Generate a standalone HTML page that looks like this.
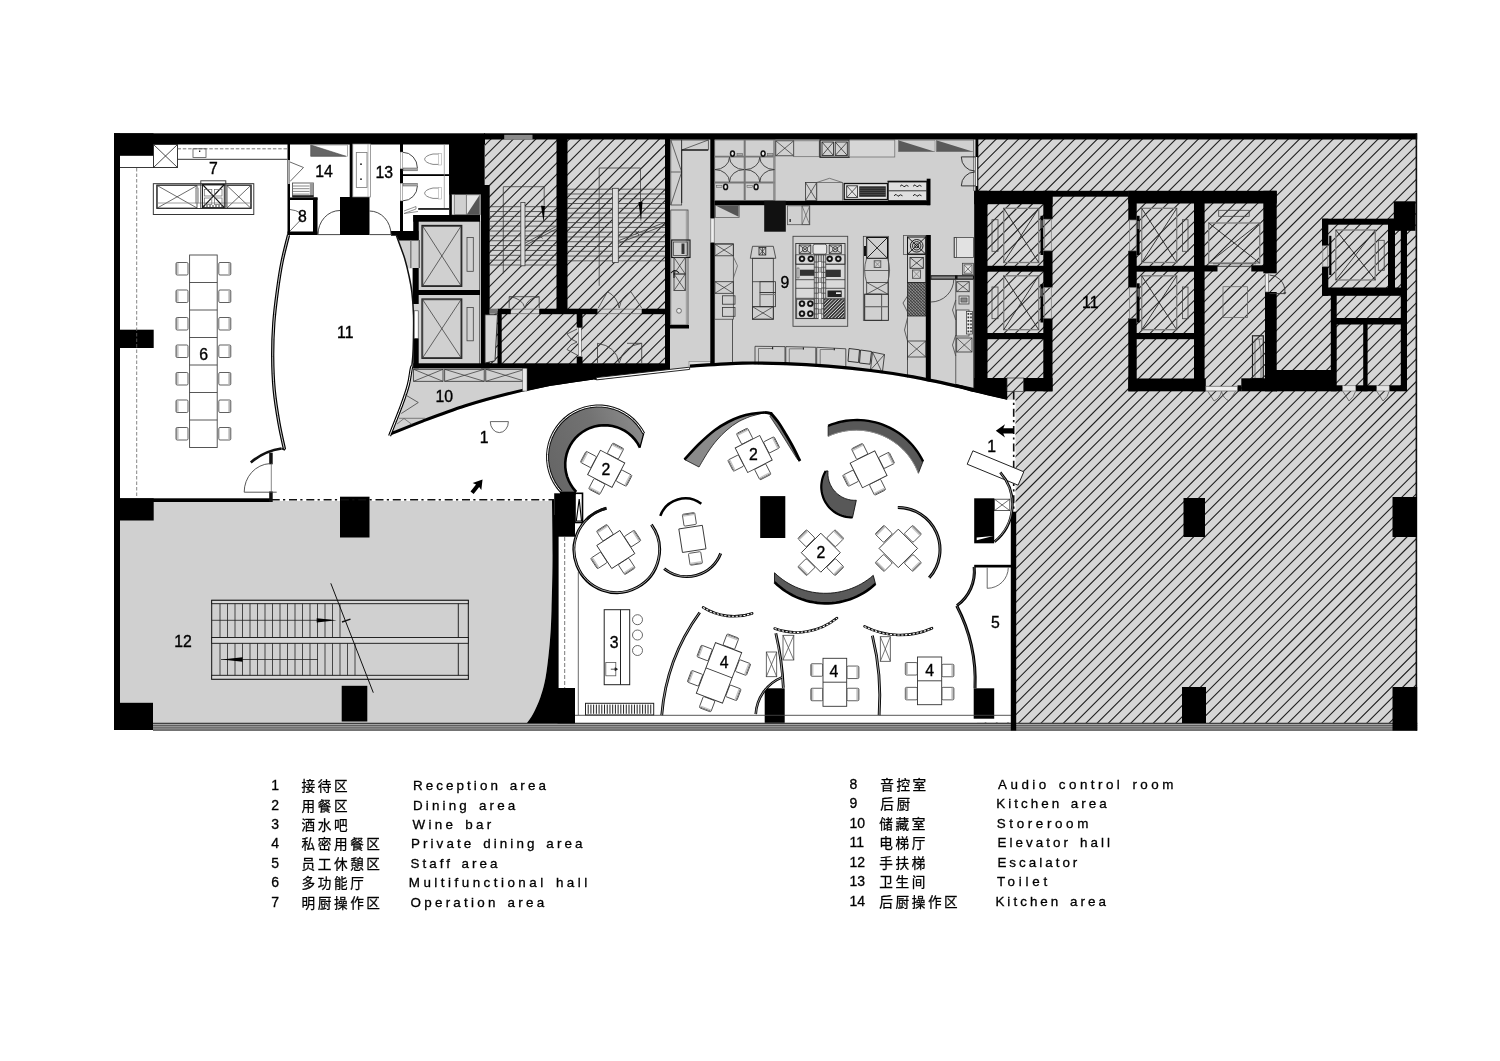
<!DOCTYPE html>
<html><head><meta charset="utf-8"><title>Floor plan</title>
<style>
html,body{margin:0;padding:0;background:#fff;}
svg{display:block;filter:grayscale(1);font-family:"Liberation Sans",sans-serif;}
text{fill:#000;stroke:#000;stroke-width:0.35px;}
.lg text{stroke-width:0.3px;word-spacing:2px;}
.lg text.cj{font-family:"Liberation Sans","Noto Sans CJK SC",sans-serif;font-size:13.6px;letter-spacing:2.6px;word-spacing:0;stroke-width:0.27px;}
</style></head><body>
<svg width="1500" height="1061" viewBox="0 0 1500 1061">
<rect x="0" y="0" width="1500" height="1061" fill="#fff"/>
<!-- s1_base -->
<path d="M120,501 L552,501  C552.08,510 552.58,541.67 552.5,560 C552.42,578.33 551.92,596.67 551.5,610 C551.08,623.33 550.92,629.17 550,640 C549.08,650.83 547.58,665.5 546,675 C544.42,684.5 542.67,690.5 540.5,697 C538.33,703.5 535.25,709.67 533,714 C530.75,718.33 528,721.5 527,723 L120,723 Z" fill="#d0d0d0"/>
<rect x="413" y="215" width="68" height="153" fill="#d0d0d0"/>
<rect x="451.5" y="194.5" width="29.5" height="21.5" fill="#d0d0d0"/>
<polygon points="398,239.5 414,239.5 414,268.5 407.3,268.5 404.6,258.3 400.6,247" fill="#d0d0d0"/>
<rect x="484" y="314" width="15" height="50" fill="#d0d0d0"/>
<path d="M413.3,367 L528,367 L528,392 L508,395.2 L465.3,407.2 L422.7,422.5 L389.6,435.8 L401.7,405 L408.3,385 Z" fill="#d0d0d0"/>
<rect x="485" y="138" width="73" height="228" fill="#d6d6d6"/>
<rect x="566" y="138" width="101" height="228" fill="#d6d6d6"/>
<rect x="556" y="313" width="12" height="53" fill="#d6d6d6"/>
<rect x="669" y="138" width="310" height="264" fill="#d0d0d0"/>
<rect x="977" y="136" width="439.5" height="587" fill="#d6d6d6"/>
<clipPath id="hc"><rect x="485" y="138" width="73" height="228"/><rect x="566" y="138" width="101" height="228"/><rect x="556" y="313" width="12" height="53"/><rect x="977.5" y="136" width="439" height="587"/></clipPath>
<g clip-path="url(#hc)" stroke="#202020" stroke-width="1.1">
<path d="M488.73,130L-111.27,730M499.96,130L-100.04,730M511.19,130L-88.81,730M522.42,130L-77.58,730M533.65,130L-66.35,730M544.88,130L-55.12,730M556.11,130L-43.89,730M567.34,130L-32.66,730M578.57,130L-21.43,730M589.8,130L-10.2,730M601.03,130L1.03,730M612.26,130L12.26,730M623.49,130L23.49,730M634.72,130L34.72,730M645.95,130L45.95,730M657.18,130L57.18,730M668.41,130L68.41,730M679.64,130L79.64,730M690.87,130L90.87,730M702.1,130L102.1,730M713.33,130L113.33,730M724.56,130L124.56,730M735.79,130L135.79,730M747.02,130L147.02,730M758.25,130L158.25,730M769.48,130L169.48,730M780.71,130L180.71,730M791.94,130L191.94,730M803.17,130L203.17,730M814.4,130L214.4,730M825.63,130L225.63,730M836.86,130L236.86,730M848.09,130L248.09,730M859.32,130L259.32,730M870.55,130L270.55,730M881.78,130L281.78,730M893.01,130L293.01,730M904.24,130L304.24,730M915.47,130L315.47,730M926.7,130L326.7,730M937.93,130L337.93,730M949.16,130L349.16,730M960.39,130L360.39,730M971.62,130L371.62,730M982.85,130L382.85,730M994.08,130L394.08,730M1005.31,130L405.31,730M1016.54,130L416.54,730M1027.77,130L427.77,730M1039,130L439,730M1050.23,130L450.23,730M1061.46,130L461.46,730M1072.69,130L472.69,730M1083.92,130L483.92,730M1095.15,130L495.15,730M1106.38,130L506.38,730M1117.61,130L517.61,730M1128.84,130L528.84,730M1140.07,130L540.07,730M1151.3,130L551.3,730M1162.53,130L562.53,730M1173.76,130L573.76,730M1184.99,130L584.99,730M1196.22,130L596.22,730M1207.45,130L607.45,730M1218.68,130L618.68,730M1229.91,130L629.91,730M1241.14,130L641.14,730M1252.37,130L652.37,730M1263.6,130L663.6,730M1274.83,130L674.83,730M1286.06,130L686.06,730M1297.29,130L697.29,730M1308.52,130L708.52,730M1319.75,130L719.75,730M1330.98,130L730.98,730M1342.21,130L742.21,730M1353.44,130L753.44,730M1364.67,130L764.67,730M1375.9,130L775.9,730M1387.13,130L787.13,730M1398.36,130L798.36,730M1409.59,130L809.59,730M1420.82,130L820.82,730M1432.05,130L832.05,730M1443.28,130L843.28,730M1454.51,130L854.51,730M1465.74,130L865.74,730M1476.97,130L876.97,730M1488.2,130L888.2,730M1499.43,130L899.43,730M1510.66,130L910.66,730M1521.89,130L921.89,730M1533.12,130L933.12,730M1544.35,130L944.35,730M1555.58,130L955.58,730M1566.81,130L966.81,730M1578.04,130L978.04,730M1589.27,130L989.27,730M1600.5,130L1000.5,730M1611.73,130L1011.73,730M1622.96,130L1022.96,730M1634.19,130L1034.19,730M1645.42,130L1045.42,730M1656.65,130L1056.65,730M1667.88,130L1067.88,730M1679.11,130L1079.11,730M1690.34,130L1090.34,730M1701.57,130L1101.57,730M1712.8,130L1112.8,730M1724.03,130L1124.03,730M1735.26,130L1135.26,730M1746.49,130L1146.49,730M1757.72,130L1157.72,730M1768.95,130L1168.95,730M1780.18,130L1180.18,730M1791.41,130L1191.41,730M1802.64,130L1202.64,730M1813.87,130L1213.87,730M1825.1,130L1225.1,730M1836.33,130L1236.33,730M1847.56,130L1247.56,730M1858.79,130L1258.79,730M1870.02,130L1270.02,730M1881.25,130L1281.25,730M1892.48,130L1292.48,730M1903.71,130L1303.71,730M1914.94,130L1314.94,730M1926.17,130L1326.17,730M1937.4,130L1337.4,730M1948.63,130L1348.63,730M1959.86,130L1359.86,730M1971.09,130L1371.09,730M1982.32,130L1382.32,730M1993.55,130L1393.55,730M2004.78,130L1404.78,730" fill="none"/>
</g>
<!-- s5_kitchen -->
<rect x="670.8" y="140" width="10.9" height="65" fill="none" stroke="#333" stroke-width="0.7"/>
<path d="M670.8,140 L681.7,172 L670.8,205 M670.8,172 H681.7" fill="none" stroke="#333" stroke-width="0.7"/>
<rect x="681.7" y="140" width="26.6" height="10" fill="none" stroke="#333" stroke-width="0.7"/>
<path d="M681.7,150 L708.3,140" fill="none" stroke="#333" stroke-width="0.7"/>
<path d="M681.7,150 H708" fill="none" stroke="#111" stroke-width="1.2"/>
<path d="M681.7,150 V203" fill="none" stroke="#222" stroke-width="1"/>
<rect x="670.8" y="210" width="17.2" height="115" fill="none" stroke="#333" stroke-width="0.7"/>
<line x1="686.3" y1="210" x2="686.3" y2="325" stroke="#777" stroke-width="0.6"/>
<rect x="671.7" y="240" width="18.3" height="17.5" fill="none" stroke="#111" stroke-width="1.1"/>
<rect x="673.5" y="242" width="14" height="13.5" fill="none" stroke="#333" stroke-width="0.7"/>
<rect x="681.5" y="243.5" width="3" height="10.5" fill="#333"/>
<rect x="674" y="257.5" width="11.3" height="16.5" fill="none" stroke="#333" stroke-width="0.8"/><line x1="674" y1="257.5" x2="685.3" y2="274" stroke="#333" stroke-width="0.72"/><line x1="674" y1="274" x2="685.3" y2="257.5" stroke="#333" stroke-width="0.72"/>
<rect x="674" y="274" width="11.3" height="16.5" fill="none" stroke="#333" stroke-width="0.8"/><line x1="674" y1="274" x2="685.3" y2="290.5" stroke="#333" stroke-width="0.72"/><line x1="674" y1="290.5" x2="685.3" y2="274" stroke="#333" stroke-width="0.72"/>
<path d="M671,273 q4,-5 8,0 M674,270 l0,8" fill="none" stroke="#111" stroke-width="1.1"/>
<circle cx="679" cy="310.8" r="2.4" fill="#e8e8e8" stroke="#555" stroke-width="0.8"/>
<rect x="670" y="325" width="19" height="3.5" fill="#000"/>
<rect x="689" y="361.7" width="21.5" height="4.3" fill="#e0e0e0" stroke="#666" stroke-width="0.5"/>
<rect x="710.3" y="139" width="4.4" height="79.3" fill="#000"/>
<rect x="710.3" y="242.5" width="4.4" height="121.5" fill="#000"/>
<rect x="710.8" y="218.3" width="3.4" height="24.2" fill="#eee" stroke="#555" stroke-width="0.6"/>
<rect x="714.7" y="140" width="60.3" height="60.5" fill="none" stroke="#666" stroke-width="0.8"/>
<line x1="744.7" y1="140" x2="744.7" y2="200.5" stroke="#777" stroke-width="2"/>
<line x1="714.7" y1="156.7" x2="775" y2="156.7" stroke="#777" stroke-width="1.8"/>
<line x1="714.7" y1="182.5" x2="775" y2="182.5" stroke="#777" stroke-width="1.8"/>
<line x1="774" y1="140" x2="774" y2="200.5" stroke="#888" stroke-width="1.6"/>
<path d="M729.5,157.2 A14.6,12.4 0 0 0 744.1,169.6 A14.6,12.4 0 0 0 729.5,182 A14.6,12.4 0 0 0 714.9,169.6 A14.6,12.4 0 0 0 729.5,157.2" fill="none" stroke="#3a3a3a" stroke-width="0.9"/>
<path d="M759.8,157.2 A14.6,12.4 0 0 0 774.4,169.6 A14.6,12.4 0 0 0 759.8,182 A14.6,12.4 0 0 0 745.2,169.6 A14.6,12.4 0 0 0 759.8,157.2" fill="none" stroke="#3a3a3a" stroke-width="0.9"/>
<ellipse cx="732.5" cy="153.6" rx="2.7" ry="3.4" fill="#111"/>
<ellipse cx="732.5" cy="153.6" rx="1.2" ry="1.8" fill="#eee"/>
<ellipse cx="763.1" cy="153.6" rx="2.7" ry="3.4" fill="#111"/>
<ellipse cx="763.1" cy="153.6" rx="1.2" ry="1.8" fill="#eee"/>
<ellipse cx="725.6" cy="186.9" rx="2.7" ry="3.4" fill="#111"/>
<ellipse cx="725.6" cy="186.9" rx="1.2" ry="1.8" fill="#eee"/>
<ellipse cx="756.1" cy="186.9" rx="2.7" ry="3.4" fill="#111"/>
<ellipse cx="756.1" cy="186.9" rx="1.2" ry="1.8" fill="#eee"/>
<rect x="737" y="153.5" width="5.5" height="2.3" fill="#aaa" stroke="#555" stroke-width="0.5"/>
<rect x="767.5" y="153.5" width="5.5" height="2.3" fill="#aaa" stroke="#555" stroke-width="0.5"/>
<rect x="716.5" y="185.5" width="5.5" height="1.8" fill="#ccc" stroke="#555" stroke-width="0.5"/>
<rect x="747" y="185.5" width="5.5" height="1.8" fill="#ccc" stroke="#555" stroke-width="0.5"/>
<rect x="714.7" y="200.8" width="215.3" height="4.4" fill="#000"/>
<rect x="926.7" y="178.7" width="3.8" height="26.5" fill="#000"/>
<rect x="764.2" y="200.8" width="21.6" height="30.9" fill="#111"/>
<rect x="715.5" y="205.5" width="23.7" height="12" fill="none" stroke="#555" stroke-width="0.7"/>
<polygon points="716,205.8 738.6,205.8 738.6,216.8" fill="#555"/>
<rect x="775.8" y="140.8" width="17.9" height="15" fill="none" stroke="#333" stroke-width="0.8"/><line x1="775.8" y1="140.8" x2="793.7" y2="155.8" stroke="#333" stroke-width="0.72"/><line x1="775.8" y1="155.8" x2="793.7" y2="140.8" stroke="#333" stroke-width="0.72"/>
<rect x="793.7" y="140.8" width="25.5" height="15.9" fill="none" stroke="#666" stroke-width="0.7"/>
<rect x="820" y="140" width="29.2" height="17.2" fill="none" stroke="#111" stroke-width="1.2"/>
<rect x="822" y="142" width="11.4" height="13.5" fill="none" stroke="#222" stroke-width="0.8"/><line x1="822" y1="142" x2="833.4" y2="155.5" stroke="#222" stroke-width="0.72"/><line x1="822" y1="155.5" x2="833.4" y2="142" stroke="#222" stroke-width="0.72"/>
<rect x="835.2" y="142" width="12.1" height="13.5" fill="none" stroke="#222" stroke-width="0.8"/><line x1="835.2" y1="142" x2="847.3" y2="155.5" stroke="#222" stroke-width="0.72"/><line x1="835.2" y1="155.5" x2="847.3" y2="142" stroke="#222" stroke-width="0.72"/>
<rect x="849.2" y="140" width="45.6" height="17" fill="#d6d6d6" stroke="#666" stroke-width="0.7"/>
<polygon points="898.3,140.3 898.3,151.7 935,151.7" fill="#5a5a5a"/>
<rect x="898.3" y="140.3" width="36.7" height="11.4" fill="none" stroke="#777" stroke-width="0.5"/>
<polygon points="936.3,140.3 936.3,151.7 973.3,151.7" fill="#5a5a5a"/>
<rect x="936.3" y="140.3" width="37.2" height="11.4" fill="none" stroke="#777" stroke-width="0.5"/>
<rect x="805.5" y="182.5" width="11.2" height="18" fill="none" stroke="#333" stroke-width="0.8"/><line x1="805.5" y1="182.5" x2="816.7" y2="200.5" stroke="#333" stroke-width="0.72"/><line x1="805.5" y1="200.5" x2="816.7" y2="182.5" stroke="#333" stroke-width="0.72"/>
<path d="M816.7,200.5 V182.5 L829.5,178.3 L842.5,182.5 V200.5 M816.7,182.5 H842.5" fill="none" stroke="#555" stroke-width="0.7"/>
<rect x="844.2" y="183.5" width="43.3" height="16" fill="#e4e4e4" stroke="#111" stroke-width="1.3"/>
<rect x="846.7" y="185.8" width="10.8" height="11.7" fill="none" stroke="#222" stroke-width="0.8"/><line x1="846.7" y1="185.8" x2="857.5" y2="197.5" stroke="#222" stroke-width="0.72"/><line x1="846.7" y1="197.5" x2="857.5" y2="185.8" stroke="#222" stroke-width="0.72"/>
<rect x="859.2" y="186.3" width="26.6" height="10.5" fill="#2b2b2b"/>
<line x1="859.2" y1="188.3" x2="885.8" y2="188.3" stroke="#666" stroke-width="0.5"/>
<line x1="859.2" y1="190.4" x2="885.8" y2="190.4" stroke="#666" stroke-width="0.5"/>
<line x1="859.2" y1="192.5" x2="885.8" y2="192.5" stroke="#666" stroke-width="0.5"/>
<line x1="859.2" y1="194.6" x2="885.8" y2="194.6" stroke="#666" stroke-width="0.5"/>
<rect x="888.3" y="181.7" width="38.4" height="18.8" fill="#e0e0e0" stroke="#222" stroke-width="0.9"/>
<rect x="887.5" y="180.7" width="39.5" height="1.6" fill="#111"/>
<line x1="888.3" y1="190.8" x2="926.7" y2="190.8" stroke="#222" stroke-width="0.9"/>
<path d="M900,186.3 l2,-1.5 l2,2 l2.5,-1.5 l2,1" fill="none" stroke="#222" stroke-width="1"/>
<path d="M913,186.3 l2,-1.5 l2,2 l2.5,-1.5 l2,1" fill="none" stroke="#222" stroke-width="1"/>
<path d="M894,195.8 l2,-1.5 l2,2 l2.5,-1.5 l2,1" fill="none" stroke="#222" stroke-width="1"/>
<path d="M913,195.8 l2,-1.5 l2,2 l2.5,-1.5 l2,1" fill="none" stroke="#222" stroke-width="1"/>
<rect x="787.5" y="205.8" width="22.2" height="18.9" fill="none" stroke="#555" stroke-width="0.8"/>
<rect x="802" y="205.8" width="7.7" height="18.9" fill="none" stroke="#555" stroke-width="0.7"/><line x1="802" y1="205.8" x2="809.7" y2="224.7" stroke="#555" stroke-width="0.63"/><line x1="802" y1="224.7" x2="809.7" y2="205.8" stroke="#555" stroke-width="0.63"/>
<rect x="789.5" y="219" width="1.3" height="3" fill="#222"/>
<rect x="714.7" y="243.7" width="18.6" height="75.5" fill="none" stroke="#333" stroke-width="0.7"/>
<rect x="714.9" y="244.2" width="18.4" height="11.6" fill="none" stroke="#333" stroke-width="0.8"/><line x1="714.9" y1="244.2" x2="733.3" y2="255.8" stroke="#333" stroke-width="0.72"/><line x1="714.9" y1="255.8" x2="733.3" y2="244.2" stroke="#333" stroke-width="0.72"/>
<rect x="714.9" y="281.7" width="18.4" height="11.6" fill="none" stroke="#333" stroke-width="0.8"/><line x1="714.9" y1="281.7" x2="733.3" y2="293.3" stroke="#333" stroke-width="0.72"/><line x1="714.9" y1="293.3" x2="733.3" y2="281.7" stroke="#333" stroke-width="0.72"/>
<path d="M733.3,256.7 L737.5,265.8 L733.3,278.3" fill="none" stroke="#555" stroke-width="0.7"/>
<rect x="722.5" y="295.8" width="12.5" height="8.4" fill="none" stroke="#333" stroke-width="0.8"/>
<rect x="722.5" y="307.5" width="12.5" height="8.8" fill="none" stroke="#333" stroke-width="0.8"/>
<line x1="732.5" y1="319.2" x2="732.5" y2="362" stroke="#333" stroke-width="0.8"/>
<path d="M752.5,246.3 H773.3 L775.8,258.3 H750.3 Z" fill="none" stroke="#333" stroke-width="0.8"/>
<rect x="752.5" y="258.3" width="20.8" height="60.9" fill="none" stroke="#333" stroke-width="0.8"/>
<rect x="759" y="247.5" width="6.8" height="7.5" fill="none" stroke="#222" stroke-width="0.8"/>
<path d="M759,247.5 L765.8,255 M759,255 L765.8,247.5 M762.4,247.5V255" fill="none" stroke="#222" stroke-width="0.7"/>
<line x1="752.5" y1="281.7" x2="773.3" y2="281.7" stroke="#333" stroke-width="0.8"/>
<line x1="752.5" y1="306.7" x2="773.3" y2="306.7" stroke="#333" stroke-width="0.8"/>
<rect x="760" y="281.7" width="15.5" height="10.8" fill="none" stroke="#333" stroke-width="0.8"/>
<rect x="760" y="292.5" width="15.5" height="14.2" fill="none" stroke="#333" stroke-width="0.8"/>
<line x1="760" y1="294.5" x2="775.5" y2="294.5" stroke="#777" stroke-width="1.2"/>
<rect x="752.5" y="306.7" width="20.8" height="12.5" fill="none" stroke="#333" stroke-width="0.8"/><line x1="752.5" y1="306.7" x2="773.3" y2="319.2" stroke="#333" stroke-width="0.72"/><line x1="752.5" y1="319.2" x2="773.3" y2="306.7" stroke="#333" stroke-width="0.72"/>
<text x="785" y="287.8" font-size="15.8" text-anchor="middle">9</text>
<rect x="793" y="236.3" width="54.7" height="90" fill="none" stroke="#444" stroke-width="0.9"/>
<rect x="795.8" y="243.5" width="49.2" height="75.1" fill="#d9d9d9" stroke="#333" stroke-width="0.9"/>
<rect x="799.2" y="245" width="11.6" height="8.3" fill="none" stroke="#222" stroke-width="0.8"/><line x1="799.2" y1="245" x2="810.8" y2="253.3" stroke="#222" stroke-width="0.72"/><line x1="799.2" y1="253.3" x2="810.8" y2="245" stroke="#222" stroke-width="0.72"/>
<rect x="829.2" y="245" width="12.1" height="8.3" fill="none" stroke="#222" stroke-width="0.8"/><line x1="829.2" y1="245" x2="841.3" y2="253.3" stroke="#222" stroke-width="0.72"/><line x1="829.2" y1="253.3" x2="841.3" y2="245" stroke="#222" stroke-width="0.72"/>
<circle cx="805" cy="249.2" r="2.6" fill="none" stroke="#222" stroke-width="0.8"/>
<circle cx="835.2" cy="249.2" r="2.6" fill="none" stroke="#222" stroke-width="0.8"/>
<rect x="813" y="244.2" width="13.7" height="10" fill="#e6e6e6" stroke="#333" stroke-width="0.8" rx="2"/>
<rect x="795.8" y="254.8" width="49.2" height="9.4" fill="none" stroke="#333" stroke-width="0.7"/>
<circle cx="802" cy="258.8" r="3.1" fill="#111" stroke="#111" stroke-width="0.4"/><circle cx="802" cy="258.8" r="1.4" fill="#ddd" stroke="none" stroke-width="0"/>
<circle cx="810.8" cy="258.8" r="3.1" fill="#111" stroke="#111" stroke-width="0.4"/><circle cx="810.8" cy="258.8" r="1.4" fill="#ddd" stroke="none" stroke-width="0"/>
<circle cx="829.7" cy="258.8" r="3.1" fill="#111" stroke="#111" stroke-width="0.4"/><circle cx="829.7" cy="258.8" r="1.4" fill="#ddd" stroke="none" stroke-width="0"/>
<circle cx="838.3" cy="258.8" r="3.1" fill="#111" stroke="#111" stroke-width="0.4"/><circle cx="838.3" cy="258.8" r="1.4" fill="#ddd" stroke="none" stroke-width="0"/>
<line x1="795.8" y1="264.2" x2="845" y2="264.2" stroke="#333" stroke-width="0.8"/>
<line x1="795.8" y1="279.7" x2="845" y2="279.7" stroke="#333" stroke-width="0.8"/>
<line x1="795.8" y1="288.3" x2="845" y2="288.3" stroke="#333" stroke-width="0.8"/>
<line x1="795.8" y1="298.3" x2="845" y2="298.3" stroke="#333" stroke-width="0.8"/>
<rect x="800" y="269.7" width="15" height="6.1" fill="#333"/>
<rect x="824.2" y="269.7" width="16.6" height="7.3" fill="#333"/>
<rect x="797" y="268" width="2" height="10" fill="none" stroke="#333" stroke-width="0.5"/>
<rect x="814.2" y="255" width="11.6" height="63.3" fill="#cfcfcf" stroke="#333" stroke-width="0.7"/>
<path d="M816.3,255V318M818.6,255V318M821.2,255V318M823.5,255V318M814.2,262H825.8M814.2,267.2H825.8M814.2,272.4H825.8M814.2,277.6H825.8M814.2,282.8H825.8M814.2,288H825.8M814.2,293.2H825.8M814.2,298.4H825.8M814.2,303.6H825.8M814.2,308.8H825.8M814.2,314H825.8" fill="none" stroke="#444" stroke-width="0.8"/>
<rect x="818.6" y="262" width="2.6" height="5.2" fill="#f2f2f2"/>
<rect x="818.6" y="272.4" width="2.6" height="5.2" fill="#f2f2f2"/>
<rect x="818.6" y="282.8" width="2.6" height="5.2" fill="#f2f2f2"/>
<rect x="818.6" y="293.2" width="2.6" height="5.2" fill="#f2f2f2"/>
<rect x="818.6" y="303.6" width="2.6" height="5.2" fill="#f2f2f2"/>
<rect x="818.6" y="314" width="2.6" height="5.2" fill="#f2f2f2"/>
<rect x="827.5" y="290.5" width="14.2" height="6.5" fill="#222"/>
<rect x="836" y="292.3" width="4.8" height="1.7" fill="#eee"/>
<rect x="824.2" y="299.2" width="20" height="19.1" fill="#3a3a3a" stroke="#222" stroke-width="0.6"/>
<clipPath id="kh"><rect x="824.2" y="299.2" width="20" height="19.1"/></clipPath>
<g clip-path="url(#kh)"><path d="M803.8,318.3l19.1,-19.1M807.2,318.3l19.1,-19.1M810.6,318.3l19.1,-19.1M814,318.3l19.1,-19.1M817.4,318.3l19.1,-19.1M820.8,318.3l19.1,-19.1M824.2,318.3l19.1,-19.1M827.6,318.3l19.1,-19.1M831,318.3l19.1,-19.1M834.4,318.3l19.1,-19.1M837.8,318.3l19.1,-19.1M841.2,318.3l19.1,-19.1M844.6,318.3l19.1,-19.1M848,318.3l19.1,-19.1" fill="none" stroke="#ddd" stroke-width="1"/></g>
<rect x="796.7" y="299.2" width="17.5" height="19.1" fill="none" stroke="#333" stroke-width="0.8"/>
<circle cx="802" cy="303.7" r="3.1" fill="#111" stroke="#111" stroke-width="0.4"/><circle cx="802" cy="303.7" r="1.4" fill="#ddd" stroke="none" stroke-width="0"/>
<circle cx="810.3" cy="303.7" r="3.1" fill="#111" stroke="#111" stroke-width="0.4"/><circle cx="810.3" cy="303.7" r="1.4" fill="#ddd" stroke="none" stroke-width="0"/>
<circle cx="802" cy="313.7" r="3.1" fill="#111" stroke="#111" stroke-width="0.4"/><circle cx="802" cy="313.7" r="1.4" fill="#ddd" stroke="none" stroke-width="0"/>
<circle cx="810.3" cy="313.7" r="3.1" fill="#111" stroke="#111" stroke-width="0.4"/><circle cx="810.3" cy="313.7" r="1.4" fill="#ddd" stroke="none" stroke-width="0"/>
<rect x="863.3" y="236.3" width="25.2" height="84" fill="none" stroke="#333" stroke-width="0.7"/>
<rect x="866.7" y="237.5" width="20.8" height="20.8" fill="none" stroke="#111" stroke-width="1"/><line x1="866.7" y1="237.5" x2="887.5" y2="258.3" stroke="#111" stroke-width="0.9"/><line x1="866.7" y1="258.3" x2="887.5" y2="237.5" stroke="#111" stroke-width="0.9"/>
<rect x="864" y="246" width="2" height="10" fill="#111"/>
<rect x="874.2" y="260.8" width="6.6" height="6.7" fill="none" stroke="#444" stroke-width="0.8"/>
<path d="M874.2,260.8l6.6,6.7M874.2,267.5l6.6,-6.7" fill="none" stroke="#666" stroke-width="0.6"/>
<path d="M866.7,258.3 Q862.5,270 866.7,282.5 M887.5,258.3 Q891.7,270 887.5,282.5 M864.5,270.5 H889.5" fill="none" stroke="#444" stroke-width="0.8"/>
<rect x="866.7" y="282.5" width="21.3" height="11.7" fill="none" stroke="#333" stroke-width="0.8"/><line x1="866.7" y1="282.5" x2="888" y2="294.2" stroke="#333" stroke-width="0.72"/><line x1="866.7" y1="294.2" x2="888" y2="282.5" stroke="#333" stroke-width="0.72"/>
<rect x="864.7" y="294.2" width="23.6" height="26.1" fill="none" stroke="#333" stroke-width="0.8"/>
<rect x="864.7" y="294.2" width="17" height="26.1" fill="none" stroke="#333" stroke-width="0.8"/>
<line x1="864.7" y1="306.7" x2="888.3" y2="306.7" stroke="#666" stroke-width="1.2"/>
<rect x="925.8" y="235" width="5" height="150" fill="#000"/>
<rect x="903.5" y="235.5" width="22.3" height="19" fill="none" stroke="#555" stroke-width="0.8"/>
<rect x="907.5" y="237" width="18.3" height="17.2" fill="none" stroke="#111" stroke-width="1"/><line x1="907.5" y1="237" x2="925.8" y2="254.2" stroke="#111" stroke-width="0.9"/><line x1="907.5" y1="254.2" x2="925.8" y2="237" stroke="#111" stroke-width="0.9"/>
<circle cx="916.7" cy="245.8" r="2" fill="none" stroke="#111" stroke-width="0.9"/>
<circle cx="916.7" cy="245.8" r="4.2" fill="none" stroke="#111" stroke-width="0.9"/>
<circle cx="916.7" cy="245.8" r="6.3" fill="none" stroke="#111" stroke-width="0.9"/>
<rect x="907.5" y="254.2" width="18.3" height="28.3" fill="none" stroke="#222" stroke-width="0.9"/>
<rect x="910" y="257.5" width="13.3" height="10.8" fill="none" stroke="#222" stroke-width="0.8"/><line x1="910" y1="257.5" x2="923.3" y2="268.3" stroke="#222" stroke-width="0.72"/><line x1="910" y1="268.3" x2="923.3" y2="257.5" stroke="#222" stroke-width="0.72"/>
<rect x="912.5" y="270" width="8" height="8.3" fill="none" stroke="#444" stroke-width="0.8"/>
<path d="M912.5,270l8,8.3M912.5,278.3l8,-8.3" fill="none" stroke="#666" stroke-width="0.6"/>
<rect x="907.5" y="282.5" width="18.3" height="33.5" fill="#8a8a8a" stroke="#222" stroke-width="0.8"/>
<clipPath id="kh2"><rect x="907.5" y="282.5" width="18.3" height="33.5"/></clipPath>
<g clip-path="url(#kh2)"><path d="M871.5,316l33.5,-33.5M871.5,282.5l33.5,33.5M874.5,316l33.5,-33.5M874.5,282.5l33.5,33.5M877.5,316l33.5,-33.5M877.5,282.5l33.5,33.5M880.5,316l33.5,-33.5M880.5,282.5l33.5,33.5M883.5,316l33.5,-33.5M883.5,282.5l33.5,33.5M886.5,316l33.5,-33.5M886.5,282.5l33.5,33.5M889.5,316l33.5,-33.5M889.5,282.5l33.5,33.5M892.5,316l33.5,-33.5M892.5,282.5l33.5,33.5M895.5,316l33.5,-33.5M895.5,282.5l33.5,33.5M898.5,316l33.5,-33.5M898.5,282.5l33.5,33.5M901.5,316l33.5,-33.5M901.5,282.5l33.5,33.5M904.5,316l33.5,-33.5M904.5,282.5l33.5,33.5M907.5,316l33.5,-33.5M907.5,282.5l33.5,33.5M910.5,316l33.5,-33.5M910.5,282.5l33.5,33.5M913.5,316l33.5,-33.5M913.5,282.5l33.5,33.5M916.5,316l33.5,-33.5M916.5,282.5l33.5,33.5M919.5,316l33.5,-33.5M919.5,282.5l33.5,33.5M922.5,316l33.5,-33.5M922.5,282.5l33.5,33.5M925.5,316l33.5,-33.5M925.5,282.5l33.5,33.5M928.5,316l33.5,-33.5M928.5,282.5l33.5,33.5" fill="none" stroke="#222" stroke-width="0.6"/></g>
<path d="M907.5,296 L903,303 L907.5,312 M907.5,318 L904.5,330 L907.5,341 M907.5,316 V360" fill="none" stroke="#444" stroke-width="0.8"/>
<rect x="907.5" y="341" width="18.3" height="16" fill="none" stroke="#333" stroke-width="0.8"/><line x1="907.5" y1="341" x2="925.8" y2="357" stroke="#333" stroke-width="0.72"/><line x1="907.5" y1="357" x2="925.8" y2="341" stroke="#333" stroke-width="0.72"/>
<line x1="907.5" y1="357" x2="907.5" y2="381" stroke="#333" stroke-width="0.8"/>
<rect x="930.8" y="275.8" width="42.7" height="3.4" fill="#888" stroke="#111" stroke-width="1.1"/>
<rect x="955" y="275.5" width="2.5" height="4" fill="#111"/>
<path d="M930.8,302 A23,23 0 0 0 953.8,279.2" fill="none" stroke="#333" stroke-width="0.8"/>
<rect x="954.2" y="237.5" width="19.3" height="20" fill="#e2e2e2" stroke="#444" stroke-width="0.8"/>
<rect x="954.2" y="237.5" width="2.3" height="20" fill="none" stroke="#444" stroke-width="0.7"/>
<rect x="962.5" y="263.3" width="11" height="11.4" fill="#e2e2e2" stroke="#444" stroke-width="0.8"/>
<rect x="964" y="264.8" width="8" height="8.4" fill="none" stroke="#555" stroke-width="0.8"/><line x1="964" y1="264.8" x2="972" y2="273.2" stroke="#555" stroke-width="0.72"/><line x1="964" y1="273.2" x2="972" y2="264.8" stroke="#555" stroke-width="0.72"/>
<rect x="955.8" y="279.2" width="17.7" height="112.8" fill="none" stroke="#444" stroke-width="0.8"/>
<rect x="956.7" y="281.7" width="12.5" height="10" fill="none" stroke="#333" stroke-width="0.8"/><line x1="956.7" y1="281.7" x2="969.2" y2="291.7" stroke="#333" stroke-width="0.72"/><line x1="956.7" y1="291.7" x2="969.2" y2="281.7" stroke="#333" stroke-width="0.72"/>
<rect x="959" y="296" width="10" height="8" fill="none" stroke="#444" stroke-width="0.8"/>
<path d="M961,298h6v4h-6z" fill="#888" stroke="#555" stroke-width="0.8"/>
<rect x="956.5" y="310" width="12.5" height="26" fill="#e0e0e0" stroke="#444" stroke-width="0.8"/>
<rect x="966.5" y="311.5" width="6" height="22.5" fill="#eee" stroke="#333" stroke-width="0.7"/>
<rect x="967.5" y="313" width="1.7" height="1.8" fill="#333"/>
<rect x="970.2" y="313" width="1.6" height="1.8" fill="#333"/>
<rect x="967.5" y="316.5" width="1.7" height="1.8" fill="#333"/>
<rect x="970.2" y="316.5" width="1.6" height="1.8" fill="#333"/>
<rect x="967.5" y="320" width="1.7" height="1.8" fill="#333"/>
<rect x="970.2" y="320" width="1.6" height="1.8" fill="#333"/>
<rect x="967.5" y="323.5" width="1.7" height="1.8" fill="#333"/>
<rect x="970.2" y="323.5" width="1.6" height="1.8" fill="#333"/>
<rect x="967.5" y="327" width="1.7" height="1.8" fill="#333"/>
<rect x="970.2" y="327" width="1.6" height="1.8" fill="#333"/>
<rect x="967.5" y="330.5" width="1.7" height="1.8" fill="#333"/>
<rect x="970.2" y="330.5" width="1.6" height="1.8" fill="#333"/>
<rect x="956.7" y="338" width="15.3" height="14" fill="none" stroke="#333" stroke-width="0.8"/><line x1="956.7" y1="338" x2="972" y2="352" stroke="#333" stroke-width="0.72"/><line x1="956.7" y1="352" x2="972" y2="338" stroke="#333" stroke-width="0.72"/>
<path d="M955.8,300 L952.5,310 L955.8,320 M955.8,335 L952.5,345 L955.8,356" fill="none" stroke="#444" stroke-width="0.8"/>
<rect x="975.5" y="139" width="2.8" height="52.2" fill="#000"/>
<rect x="975.9" y="157" width="1.3" height="29" fill="#f2f2f2"/>
<line x1="973.5" y1="139.5" x2="973.5" y2="191" stroke="#666" stroke-width="0.8"/>
<path d="M961.3,156.9 H975.5 M961.3,185.9 H975.5 M961.3,156.9 A13.5,14 0 0 0 974.8,171 M961.3,185.9 A13.5,14 0 0 1 974.8,172" fill="none" stroke="#222" stroke-width="0.9"/>
<path d="M755,365 V346.3 L785,346.6 V368" fill="none" stroke="#333" stroke-width="0.8"/>
<path d="M758.5,365 V348.5 H772" fill="none" stroke="#555" stroke-width="0.7"/>
<rect x="772" y="347.1" width="1.2" height="2.2" fill="#222"/>
<path d="M785.8,365 V346.6 L815.8,347.3 V368" fill="none" stroke="#333" stroke-width="0.8"/>
<path d="M789.3,365 V348.8 H802.8" fill="none" stroke="#555" stroke-width="0.7"/>
<rect x="802.8" y="347.4" width="1.2" height="2.2" fill="#222"/>
<path d="M816.7,365 V347.3 L845.8,348.8 V368" fill="none" stroke="#333" stroke-width="0.8"/>
<path d="M820.2,365 V349.5 H833.7" fill="none" stroke="#555" stroke-width="0.7"/>
<rect x="833.7" y="348.1" width="1.2" height="2.2" fill="#222"/>
<polygon points="849,348.5 859.5,349.8 858.5,362.5 848,361.3" fill="none" stroke="#222" stroke-width="0.9"/>
<polygon points="860.5,350 871.5,351.5 870,364.2 859.5,363" fill="none" stroke="#222" stroke-width="0.9"/>
<polygon points="872.5,352 884.5,354.5 882.3,373 870.5,370" fill="none" stroke="#222" stroke-width="0.8"/>
<path d="M872.5,352 L882.3,373 M884.5,354.5 L870.5,370" fill="none" stroke="#222" stroke-width="0.7"/>
<!-- s4_stairs -->
<path d="M544.2,205 V186.7 H503.3 V273.3" fill="none" stroke="#3c3c3c" stroke-width="0.8"/>
<path d="M490,206.7 H556.5M490,211.56 H556.5M490,216.42 H556.5M490,221.28 H556.5M490,226.14 H556.5M490,231 H556.5M490,235.86 H556.5M490,240.72 H556.5M490,245.58 H556.5M490,250.44 H556.5M490,255.3 H556.5M490,260.16 H556.5M490,265.02 H556.5" fill="none" stroke="#3c3c3c" stroke-width="0.8"/>
<rect x="520.8" y="202.5" width="4.2" height="63.3" fill="#ddd" stroke="#3c3c3c" stroke-width="0.8"/>
<polygon points="541,205.8 545,205.8 543.6,222.5" fill="#000"/>
<path d="M525,243.2 L556.5,226.2 M525,245.6 L556.5,228.8 M539,234.5 l3.5,4 M542.5,234.3 l-3.5,4" fill="none" stroke="#3c3c3c" stroke-width="0.85"/>
<path d="M509.2,308 V296.7 H539.2 V308" fill="none" stroke="#3c3c3c" stroke-width="0.85"/>
<path d="M509.2,296.7 Q522,298 525,308 M539.2,296.7 Q527,298 525,308" fill="none" stroke="#3c3c3c" stroke-width="0.85"/>
<path d="M510.8,309.2 H539.2 M510.8,313.6 H539.2" fill="none" stroke="#666" stroke-width="0.7"/>
<path d="M640.5,202.5 V168 H599.2 V285.8" fill="none" stroke="#3c3c3c" stroke-width="0.8"/>
<path d="M567.5,189.2 H665M567.5,193.97 H665M567.5,198.75 H665M567.5,203.52 H665M567.5,208.3 H665M567.5,213.07 H665M567.5,217.85 H665M567.5,222.62 H665M567.5,227.4 H665M567.5,232.17 H665M567.5,236.95 H665M567.5,241.72 H665M567.5,246.5 H665M567.5,251.27 H665M567.5,256.05 H665M567.5,260.82 H665" fill="none" stroke="#3c3c3c" stroke-width="0.8"/>
<rect x="612.5" y="188.3" width="5.8" height="74.2" fill="#ddd" stroke="#3c3c3c" stroke-width="0.8"/>
<polygon points="638.5,202 642.5,202 641,221.7" fill="#000"/>
<path d="M618.3,240.8 L665,222.3 M618.3,243.4 L665,225 M635.5,231 l3.5,4 M639,230.8 l-3.5,4" fill="none" stroke="#3c3c3c" stroke-width="0.85"/>
<path d="M598.3,308 L607.5,291.7 Q617.5,297 619.2,308 M641.7,308 L630.8,291.7 Q621,297 619.2,308" fill="none" stroke="#3c3c3c" stroke-width="0.85"/>
<path d="M597.5,309.2 H641.7 M597.5,313.6 H641.7" fill="none" stroke="#666" stroke-width="0.7"/>
<path d="M597.5,363 V343.3 M641.7,363 V343.3 H627" fill="none" stroke="#3c3c3c" stroke-width="0.85"/>
<path d="M597.5,343.3 Q616,346 619.2,363 M641.7,343.3 Q623,346 619.2,363" fill="none" stroke="#3c3c3c" stroke-width="0.85"/>
<rect x="578.3" y="327.5" width="3" height="29.2" fill="#eee" stroke="#3c3c3c" stroke-width="0.5"/>
<path d="M577,329 L567,334 Q570,340 577,342 M577,355 L567,349.5 Q570,344 577,342" fill="none" stroke="#3c3c3c" stroke-width="0.85"/>
<!-- s6_cores -->
<rect x="974.2" y="190.8" width="78.3" height="13.4" fill="#000"/>
<rect x="1052" y="190.8" width="76.5" height="5.9" fill="#000"/>
<rect x="974.2" y="190.8" width="13.3" height="200.5" fill="#000"/>
<rect x="1043.3" y="190.8" width="9.2" height="28.4" fill="#000"/>
<rect x="1043.3" y="250.8" width="9.2" height="36.7" fill="#000"/>
<rect x="1043.3" y="318.3" width="9.2" height="73" fill="#000"/>
<rect x="987" y="265.8" width="57" height="5.9" fill="#000"/>
<rect x="987" y="333" width="57" height="6.2" fill="#000"/>
<rect x="974.2" y="378" width="32.8" height="13.3" fill="#000"/>
<rect x="1023.7" y="378" width="28.8" height="13.3" fill="#000"/>
<rect x="1007" y="378" width="16.7" height="13.3" fill="none" stroke="#333" stroke-width="0.7"/>
<polygon points="974.2,391 1007.2,391 1007.2,400.3 974.2,392.3 956,387.4 956,384 974.2,388" fill="#000"/>
<rect x="1044.7" y="219.2" width="6.6" height="31.6" fill="none" stroke="#777" stroke-width="0.7"/>
<rect x="1040.5" y="215.8" width="2.8" height="39.2" fill="#000"/>
<rect x="1041.3" y="220.2" width="1.3" height="8" fill="#777"/>
<rect x="1044.7" y="287.5" width="6.6" height="30.8" fill="none" stroke="#777" stroke-width="0.7"/>
<rect x="1040.5" y="284.1" width="2.8" height="38.4" fill="#000"/>
<rect x="1041.3" y="288.5" width="1.3" height="8" fill="#777"/>
<rect x="1003.7" y="208.3" width="35" height="54.2" fill="none" stroke="#7c7c7c" stroke-width="1.3"/><line x1="1003.7" y1="208.3" x2="1038.7" y2="262.5" stroke="#222" stroke-width="0.9"/><line x1="1003.7" y1="262.5" x2="1038.7" y2="208.3" stroke="#222" stroke-width="0.9"/>
<rect x="1003.7" y="275.8" width="35" height="53.9" fill="none" stroke="#7c7c7c" stroke-width="1.3"/><line x1="1003.7" y1="275.8" x2="1038.7" y2="329.7" stroke="#222" stroke-width="0.9"/><line x1="1003.7" y1="329.7" x2="1038.7" y2="275.8" stroke="#222" stroke-width="0.9"/>
<rect x="992" y="219.7" width="6" height="31.6" fill="none" stroke="#444" stroke-width="0.8"/>
<rect x="992" y="287" width="6" height="31.7" fill="none" stroke="#444" stroke-width="0.8"/>
<rect x="1128.3" y="190.8" width="148.4" height="12.7" fill="#000"/>
<rect x="1128.3" y="190.8" width="8.4" height="29.2" fill="#000"/>
<rect x="1128.3" y="250.8" width="8.4" height="36.7" fill="#000"/>
<rect x="1128.3" y="318.3" width="8.4" height="73" fill="#000"/>
<rect x="1194" y="203" width="10.6" height="188.3" fill="#000"/>
<rect x="1136" y="265.8" width="59" height="5.9" fill="#000"/>
<rect x="1136" y="333" width="59" height="6.2" fill="#000"/>
<rect x="1128.3" y="378.5" width="77.5" height="12.8" fill="#000"/>
<rect x="1129.5" y="220" width="6.7" height="30.8" fill="none" stroke="#777" stroke-width="0.7"/>
<rect x="1136.7" y="215.8" width="2.9" height="39.2" fill="#000"/>
<rect x="1137.5" y="221" width="1.3" height="8" fill="#777"/>
<rect x="1129.5" y="287.5" width="6.7" height="30.8" fill="none" stroke="#777" stroke-width="0.7"/>
<rect x="1136.7" y="283.3" width="2.9" height="39.2" fill="#000"/>
<rect x="1137.5" y="288.5" width="1.3" height="8" fill="#777"/>
<rect x="1141.7" y="208.3" width="35" height="54.2" fill="none" stroke="#7c7c7c" stroke-width="1.3"/><line x1="1141.7" y1="208.3" x2="1176.7" y2="262.5" stroke="#222" stroke-width="0.9"/><line x1="1141.7" y1="262.5" x2="1176.7" y2="208.3" stroke="#222" stroke-width="0.9"/>
<rect x="1141.7" y="275.8" width="35" height="53.9" fill="none" stroke="#7c7c7c" stroke-width="1.3"/><line x1="1141.7" y1="275.8" x2="1176.7" y2="329.7" stroke="#222" stroke-width="0.9"/><line x1="1141.7" y1="329.7" x2="1176.7" y2="275.8" stroke="#222" stroke-width="0.9"/>
<rect x="1182.5" y="219.7" width="5.5" height="31.6" fill="none" stroke="#444" stroke-width="0.8"/>
<rect x="1182.5" y="287" width="5.5" height="31.7" fill="none" stroke="#444" stroke-width="0.8"/>
<rect x="1263.3" y="190.8" width="13.4" height="82.5" fill="#000"/>
<rect x="1265" y="292" width="11.7" height="99.3" fill="#000"/>
<rect x="1204" y="265.3" width="13.5" height="6.2" fill="#000"/>
<rect x="1251.3" y="265.3" width="12.7" height="6.2" fill="#000"/>
<path d="M1217.5,266.3 H1251.3 M1213,263.7 H1256" fill="none" stroke="#333" stroke-width="0.9"/>
<rect x="1208.7" y="223" width="51" height="40" fill="none" stroke="#7c7c7c" stroke-width="1.3"/><line x1="1208.7" y1="223" x2="1259.7" y2="263" stroke="#222" stroke-width="0.9"/><line x1="1208.7" y1="263" x2="1259.7" y2="223" stroke="#222" stroke-width="0.9"/>
<rect x="1218.7" y="210.3" width="30.5" height="6" fill="none" stroke="#444" stroke-width="0.8"/>
<rect x="1223" y="286.7" width="24.5" height="30.8" fill="none" stroke="#666" stroke-width="0.8"/>
<rect x="1265.2" y="273.3" width="3.3" height="18.7" fill="#eee" stroke="#555" stroke-width="0.6"/>
<path d="M1269.5,275 A15.5,17 0 0 1 1285,291.5 M1269.5,293.6 H1285" fill="none" stroke="#333" stroke-width="0.9"/>
<circle cx="1284.8" cy="292.8" r="1" fill="#555" stroke="#222" stroke-width="0.5"/>
<rect x="1252.5" y="335.8" width="10.8" height="42.7" fill="none" stroke="#222" stroke-width="1.2"/>
<path d="M1255,378 V339 H1262 M1259,339 L1261,352 L1261,378" fill="none" stroke="#555" stroke-width="0.7"/>
<rect x="1237.5" y="385.3" width="4" height="6" fill="#000"/>
<rect x="1241.3" y="378.3" width="35.7" height="13" fill="#000"/>
<rect x="1276" y="370" width="60" height="21.3" fill="#000"/>
<rect x="1205.8" y="386.2" width="31.7" height="4.8" fill="#eee" stroke="#444" stroke-width="0.6"/>
<path d="M1208,391.5 L1214,401 Q1220,398 1221.5,391.5 M1235.5,391.5 L1229,401 Q1223,398 1221.5,391.5" fill="none" stroke="#444" stroke-width="0.7"/>
<rect x="1322" y="218.7" width="72.5" height="6" fill="#000"/>
<rect x="1322" y="218.7" width="6.3" height="27.1" fill="#000"/>
<rect x="1322" y="266.7" width="6.3" height="29.1" fill="#000"/>
<rect x="1322.8" y="245.8" width="5" height="20.9" fill="none" stroke="#777" stroke-width="0.7"/>
<rect x="1329.2" y="235.8" width="2.2" height="39.2" fill="#000"/>
<rect x="1322" y="287.5" width="79.7" height="8.3" fill="#000"/>
<rect x="1388" y="218.7" width="7" height="69.3" fill="#000"/>
<rect x="1393.8" y="201.3" width="21.7" height="29.5" fill="#000"/>
<rect x="1400.8" y="230" width="6.2" height="161.3" fill="#000"/>
<rect x="1330.8" y="295" width="5.9" height="96.3" fill="#000"/>
<rect x="1336" y="318" width="65" height="6.5" fill="#000"/>
<rect x="1363.2" y="324" width="4.4" height="67.3" fill="#000"/>
<rect x="1336" y="385.3" width="6.5" height="6" fill="#000"/>
<rect x="1355.8" y="385.3" width="20.9" height="6" fill="#000"/>
<rect x="1389.2" y="385.3" width="11.8" height="6" fill="#000"/>
<rect x="1342.5" y="385.8" width="13.3" height="5.2" fill="#e4e4e4" stroke="#555" stroke-width="0.5"/>
<rect x="1376.7" y="385.8" width="12.5" height="5.2" fill="#e4e4e4" stroke="#555" stroke-width="0.5"/>
<path d="M1343,391.5 L1349,401 Q1354,397 1355.5,391.5 M1377,391.5 L1383,401 Q1388,397 1389,391.5" fill="none" stroke="#444" stroke-width="0.7"/>
<rect x="1335.8" y="230" width="39.5" height="50" fill="none" stroke="#7c7c7c" stroke-width="1.3"/><line x1="1335.8" y1="230" x2="1375.3" y2="280" stroke="#222" stroke-width="0.9"/><line x1="1335.8" y1="280" x2="1375.3" y2="230" stroke="#222" stroke-width="0.9"/>
<rect x="1378.3" y="240.3" width="5.9" height="30" fill="none" stroke="#444" stroke-width="0.8"/>
<text x="1090.3" y="308" font-size="15.8" text-anchor="middle">11</text>
<!-- s2_walls -->
<path d="M389.6,435.8 C395.12,433.58 410.08,427.27 422.7,422.5 C435.32,417.73 451.08,411.75 465.3,407.2 C479.52,402.65 493.77,398.77 508,395.2 C522.23,391.63 536.48,388.43 550.7,385.8 C564.92,383.17 578.42,381.48 593.3,379.4 C608.18,377.32 623.88,375.27 640,373.3 C656.12,371.33 672.88,369.05 690,367.6 C707.12,366.15 726.82,365 742.7,364.6 C758.58,364.2 771.08,364.68 785.3,365.2 C799.52,365.72 813.77,366.57 828,367.7 C842.23,368.83 856.48,370.22 870.7,372 C884.92,373.78 899.08,375.83 913.3,378.4 C927.52,380.97 945.68,385.08 956,387.4 C966.32,389.72 966.67,390.25 975.2,392.3 C983.73,394.35 1001.87,398.47 1007.2,399.7 L1015.3,399.7 L1015.3,722 L978,722 L978,500 L389,500 Z" fill="#fff"/>
<rect x="960" y="400" width="55.3" height="322.5" fill="#fff"/>
<rect x="114" y="133.3" width="371" height="11.2" fill="#000"/>
<rect x="484" y="133.3" width="933.2" height="6.2" fill="#000"/>
<rect x="504.2" y="134.8" width="28.3" height="4.9" fill="#8a8a8a"/>
<rect x="114" y="133.3" width="6" height="596.7" fill="#000"/>
<rect x="114" y="133.3" width="39.5" height="22.5" fill="#000"/>
<rect x="120" y="329.7" width="33.7" height="18.3" fill="#000"/>
<rect x="120" y="498.3" width="33.7" height="22.2" fill="#000"/>
<rect x="114" y="702.8" width="39" height="27.2" fill="#000"/>
<rect x="120" y="498.3" width="151.7" height="3.7" fill="#000"/>
<rect x="153" y="722.8" width="1264.2" height="7.8" fill="#a4a4a4"/>
<line x1="153" y1="723.3" x2="1417.2" y2="723.3" stroke="#1a1a1a" stroke-width="0.9"/>
<line x1="153" y1="725.7" x2="1417.2" y2="725.7" stroke="#484848" stroke-width="0.9"/>
<line x1="153" y1="727.9" x2="1417.2" y2="727.9" stroke="#484848" stroke-width="0.9"/>
<line x1="153" y1="730.1" x2="1417.2" y2="730.1" stroke="#2a2a2a" stroke-width="0.9"/>
<line x1="1416.4" y1="133.3" x2="1416.4" y2="730.6" stroke="#111" stroke-width="1.6"/>
<rect x="340" y="496.7" width="29.5" height="40.8" fill="#000"/>
<rect x="341.7" y="685.8" width="25.6" height="35.7" fill="#000"/>
<rect x="287.5" y="144" width="2.5" height="91" fill="#000"/>
<rect x="290" y="197.5" width="27.5" height="2.5" fill="#000"/>
<rect x="313" y="197.5" width="4.5" height="37.5" fill="#000"/>
<rect x="287.5" y="231.5" width="30" height="3.5" fill="#000"/>
<rect x="340" y="197" width="29.5" height="38" fill="#000"/>
<rect x="349.7" y="144" width="3.1" height="53" fill="#000"/>
<rect x="400" y="144" width="3" height="8" fill="#000"/>
<rect x="400" y="168.8" width="3" height="14.5" fill="#000"/>
<rect x="400" y="200.9" width="3" height="30.6" fill="#000"/>
<rect x="400.4" y="152" width="2.2" height="16.8" fill="#fff" stroke="#666" stroke-width="0.5"/>
<rect x="400.4" y="183.3" width="2.2" height="17.6" fill="#fff" stroke="#666" stroke-width="0.5"/>
<rect x="403" y="174.2" width="46.2" height="1.8" fill="#000"/>
<rect x="449.2" y="144" width="35.5" height="41.5" fill="#000"/>
<rect x="449.2" y="144" width="31.8" height="50.6" fill="#000"/>
<rect x="449.2" y="144" width="2.8" height="71.5" fill="#000"/>
<rect x="481" y="185" width="8.7" height="183.3" fill="#000"/>
<line x1="479.7" y1="221" x2="479.7" y2="364" stroke="#333" stroke-width="0.8"/>
<polygon points="391,231 418.5,231 418.5,240.6 399,240.6 396.6,235.8 391,235.8" fill="#000"/>
<rect x="413.3" y="215" width="66.7" height="6.7" fill="#000"/>
<rect x="413.3" y="215" width="5.4" height="25" fill="#000"/>
<rect x="412.6" y="268" width="6.1" height="36" fill="#000"/>
<rect x="413.3" y="338.3" width="5.4" height="30" fill="#000"/>
<line x1="419.2" y1="240" x2="419.2" y2="268" stroke="#222" stroke-width="0.9"/>
<rect x="413.3" y="290" width="66.7" height="5" fill="#000"/>
<rect x="413.3" y="363.3" width="256.7" height="5" fill="#000"/>
<rect x="556.5" y="139" width="11" height="175" fill="#000"/>
<rect x="665" y="139" width="5" height="229.3" fill="#000"/>
<rect x="497.5" y="308.7" width="13.3" height="5.5" fill="#000"/>
<rect x="539.2" y="308.7" width="58.3" height="5.5" fill="#000"/>
<rect x="641.7" y="308.7" width="24.3" height="5.5" fill="#000"/>
<rect x="489.7" y="308.7" width="7.8" height="5" fill="#777"/>
<rect x="497.5" y="313" width="4.2" height="51" fill="#000"/>
<rect x="576.7" y="314" width="5.8" height="13.5" fill="#000"/>
<rect x="576.7" y="356.7" width="5.8" height="7.3" fill="#000"/>
<path d="M525.8,367 L670,367 L670,371.5 L596.5,379.9 L593.3,379.4 L550.7,385.8 L525.8,391.2 Z" fill="#000"/>
<path d="M389.6,434.4 C395.12,432.18 410.08,425.87 422.7,421.1 C435.32,416.33 451.08,410.35 465.3,405.8 C479.52,401.25 493.77,397.37 508,393.8 C522.23,390.23 536.48,387.03 550.7,384.4 C564.92,381.77 586.2,379.07 593.3,378" fill="none" stroke="#000" stroke-width="3"/>
<path d="M690,366.1 C698.78,365.6 726.82,363.5 742.7,363.1 C758.58,362.7 771.08,363.18 785.3,363.7 C799.52,364.22 813.77,365.07 828,366.2 C842.23,367.33 856.48,368.72 870.7,370.5 C884.92,372.28 899.08,374.33 913.3,376.9 C927.52,379.47 945.68,383.58 956,385.9 C966.32,388.22 966.67,388.75 975.2,390.8 C983.73,392.85 1001.87,396.97 1007.2,398.2" fill="none" stroke="#000" stroke-width="3.2"/>
<polygon points="596.2,377.6 689.5,367.2 689.7,369.4 596.4,379.9" fill="#fff" stroke="#111" stroke-width="0.9"/>
<path d="M288.5,235 C287.42,239.5 283.83,252.83 282,262 C280.17,271.17 278.87,279.83 277.5,290 C276.13,300.17 274.6,311.88 273.8,323 C273,334.12 272.63,345.53 272.7,356.7 C272.77,367.87 273.15,378.9 274.2,390 C275.25,401.1 277.28,413.38 279,423.3 C280.72,433.22 283.58,445.13 284.5,449.5" fill="none" stroke="#000" stroke-width="3.3"/>
<path d="M288.5,235 C287.42,239.5 283.83,252.83 282,262 C280.17,271.17 278.87,279.83 277.5,290 C276.13,300.17 274.6,311.88 273.8,323 C273,334.12 272.63,345.53 272.7,356.7 C272.77,367.87 273.15,378.9 274.2,390 C275.25,401.1 277.28,413.38 279,423.3 C280.72,433.22 283.58,445.13 284.5,449.5" fill="none" stroke="#fff" stroke-width="0.8"/>
<path d="M396.4,235.6 C397.1,237.5 399.23,243.22 400.6,247 C401.97,250.78 403.23,253.63 404.6,258.3 C405.97,262.97 407.6,269.43 408.8,275 C410,280.57 411.02,285.03 411.8,291.7 C412.58,298.37 413.23,306.95 413.5,315 C413.77,323.05 413.52,333.17 413.4,340 C413.28,346.83 413.1,351.33 412.8,356 C412.5,360.67 411.8,366 411.6,368" fill="none" stroke="#111" stroke-width="1.5"/>
<path d="M412,366 C411.83,366.67 411.62,366.83 411,370 C410.38,373.17 409.85,379.17 408.3,385 C406.75,390.83 404.82,396.53 401.7,405 C398.58,413.47 391.62,430.67 389.6,435.8" fill="none" stroke="#000" stroke-width="3.2"/>
<path d="M412,366 C411.83,366.67 411.62,366.83 411,370 C410.38,373.17 409.85,379.17 408.3,385 C406.75,390.83 404.82,396.53 401.7,405 C398.58,413.47 391.62,430.67 389.6,435.8" fill="none" stroke="#fff" stroke-width="1"/>
<path d="M552,500  C552.08,510 552.58,541.67 552.5,560 C552.42,578.33 551.92,596.67 551.5,610 C551.08,623.33 550.92,629.17 550,640 C549.08,650.83 547.58,665.5 546,675 C544.42,684.5 542.67,690.5 540.5,697 C538.33,703.5 535.25,709.67 533,714 C530.75,718.33 528,721.5 527,723 L558.6,723 L558.6,515 L554.2,515 L554.2,500 Z" fill="#000"/>
<rect x="554.2" y="493.3" width="20.8" height="43.4" fill="#000"/>
<rect x="557.5" y="688" width="17.5" height="35.3" fill="#000"/>
<rect x="760.2" y="496.1" width="25.1" height="41.9" fill="#000"/>
<rect x="764.7" y="688.3" width="20" height="34.5" fill="#000"/>
<rect x="974.2" y="498.3" width="20" height="45" fill="#000"/>
<rect x="973.7" y="688.3" width="20.5" height="30.4" fill="#000"/>
<rect x="1010.8" y="511.7" width="5.4" height="218.9" fill="#000"/>
<rect x="974.2" y="564.8" width="36.8" height="2.7" fill="#000"/>
<rect x="1183.5" y="498" width="21.5" height="39" fill="#000"/>
<rect x="1182" y="687" width="24" height="36" fill="#000"/>
<rect x="1392.5" y="497" width="24.5" height="40" fill="#000"/>
<rect x="1392.5" y="687" width="24.7" height="43.6" fill="#000"/>
<!-- s3_left -->
<rect x="153.5" y="144.5" width="24" height="23" fill="#fff" stroke="#222" stroke-width="0.9"/><line x1="153.5" y1="144.5" x2="177.5" y2="167.5" stroke="#222" stroke-width="0.81"/><line x1="153.5" y1="167.5" x2="177.5" y2="144.5" stroke="#222" stroke-width="0.81"/>
<line x1="120" y1="167.5" x2="153.5" y2="167.5" stroke="#222" stroke-width="0.9"/>
<line x1="177.5" y1="159.3" x2="287.5" y2="159.3" stroke="#333" stroke-width="1"/>
<line x1="177.5" y1="148.8" x2="287.5" y2="148.8" stroke="#666" stroke-width="0.9" stroke-dasharray="3.5,1.8"/>
<rect x="193" y="148.8" width="13" height="8.7" fill="none" stroke="#555" stroke-width="0.8"/>
<rect x="199" y="150.5" width="1.3" height="1.5" fill="#222"/>
<line x1="136.7" y1="168" x2="136.7" y2="498" stroke="#666" stroke-width="0.8" stroke-dasharray="3.5,2"/>
<rect x="153.3" y="183.7" width="100.5" height="30.8" fill="none" stroke="#222" stroke-width="0.9"/>
<rect x="156.7" y="185" width="94.6" height="23.5" fill="none" stroke="#222" stroke-width="0.9"/>
<rect x="157.3" y="185.6" width="39.7" height="22.4" fill="none" stroke="#333" stroke-width="0.8"/><line x1="157.3" y1="185.6" x2="197" y2="208" stroke="#333" stroke-width="0.72"/><line x1="157.3" y1="208" x2="197" y2="185.6" stroke="#333" stroke-width="0.72"/>
<rect x="227" y="185.6" width="23.6" height="22.4" fill="none" stroke="#333" stroke-width="0.8"/><line x1="227" y1="185.6" x2="250.6" y2="208" stroke="#333" stroke-width="0.72"/><line x1="227" y1="208" x2="250.6" y2="185.6" stroke="#333" stroke-width="0.72"/>
<line x1="156.7" y1="203" x2="251.3" y2="203" stroke="#777" stroke-width="0.7"/>
<rect x="195.5" y="188" width="3" height="15" fill="none" stroke="#888" stroke-width="0.6"/>
<rect x="200.8" y="180.8" width="25" height="27.5" fill="none" stroke="#333" stroke-width="0.9"/>
<rect x="202.5" y="184.5" width="21.8" height="23.1" fill="none" stroke="#222" stroke-width="1"/>
<line x1="202.5" y1="184.5" x2="224.3" y2="207.6" stroke="#111" stroke-width="1.1"/><line x1="202.5" y1="207.6" x2="224.3" y2="184.5" stroke="#111" stroke-width="1.1"/>
<rect x="204.3" y="189.5" width="7.5" height="6.5" fill="none" stroke="#666" stroke-width="0.7"/>
<rect x="214.5" y="189.5" width="7.5" height="6.5" fill="none" stroke="#666" stroke-width="0.7"/>
<rect x="204.3" y="198" width="7.5" height="6.5" fill="none" stroke="#666" stroke-width="0.7"/>
<rect x="214.5" y="198" width="7.5" height="6.5" fill="none" stroke="#666" stroke-width="0.7"/>
<line x1="203" y1="206" x2="224" y2="206" stroke="#333" stroke-width="1.2" stroke-dasharray="2,1"/>
<text x="213.5" y="174.3" font-size="15.8" text-anchor="middle">7</text>
<rect x="189.6" y="255" width="27.6" height="192.5" fill="#fff" stroke="#444" stroke-width="0.9"/>
<line x1="189.6" y1="282.5" x2="217.2" y2="282.5" stroke="#444" stroke-width="0.9"/>
<line x1="189.6" y1="310" x2="217.2" y2="310" stroke="#444" stroke-width="0.9"/>
<line x1="189.6" y1="337.5" x2="217.2" y2="337.5" stroke="#444" stroke-width="0.9"/>
<line x1="189.6" y1="365" x2="217.2" y2="365" stroke="#444" stroke-width="0.9"/>
<line x1="189.6" y1="392.5" x2="217.2" y2="392.5" stroke="#444" stroke-width="0.9"/>
<line x1="189.6" y1="420" x2="217.2" y2="420" stroke="#444" stroke-width="0.9"/>
<g transform="translate(182,268.75) rotate(-90)"><rect x="-6.25" y="-6" width="12.5" height="12" rx="1.2" fill="#fff" stroke="#444" stroke-width="0.85"/><rect x="-5.65" y="-5.7" width="11.3" height="1.1" fill="#777"/><rect x="-5.65" y="-4.6" width="11.3" height="1.2" fill="#c4c4c4"/></g>
<g transform="translate(224.8,268.75) rotate(90)"><rect x="-6.25" y="-6" width="12.5" height="12" rx="1.2" fill="#fff" stroke="#444" stroke-width="0.85"/><rect x="-5.65" y="-5.7" width="11.3" height="1.1" fill="#777"/><rect x="-5.65" y="-4.6" width="11.3" height="1.2" fill="#c4c4c4"/></g>
<g transform="translate(182,296.25) rotate(-90)"><rect x="-6.25" y="-6" width="12.5" height="12" rx="1.2" fill="#fff" stroke="#444" stroke-width="0.85"/><rect x="-5.65" y="-5.7" width="11.3" height="1.1" fill="#777"/><rect x="-5.65" y="-4.6" width="11.3" height="1.2" fill="#c4c4c4"/></g>
<g transform="translate(224.8,296.25) rotate(90)"><rect x="-6.25" y="-6" width="12.5" height="12" rx="1.2" fill="#fff" stroke="#444" stroke-width="0.85"/><rect x="-5.65" y="-5.7" width="11.3" height="1.1" fill="#777"/><rect x="-5.65" y="-4.6" width="11.3" height="1.2" fill="#c4c4c4"/></g>
<g transform="translate(182,323.75) rotate(-90)"><rect x="-6.25" y="-6" width="12.5" height="12" rx="1.2" fill="#fff" stroke="#444" stroke-width="0.85"/><rect x="-5.65" y="-5.7" width="11.3" height="1.1" fill="#777"/><rect x="-5.65" y="-4.6" width="11.3" height="1.2" fill="#c4c4c4"/></g>
<g transform="translate(224.8,323.75) rotate(90)"><rect x="-6.25" y="-6" width="12.5" height="12" rx="1.2" fill="#fff" stroke="#444" stroke-width="0.85"/><rect x="-5.65" y="-5.7" width="11.3" height="1.1" fill="#777"/><rect x="-5.65" y="-4.6" width="11.3" height="1.2" fill="#c4c4c4"/></g>
<g transform="translate(182,351.25) rotate(-90)"><rect x="-6.25" y="-6" width="12.5" height="12" rx="1.2" fill="#fff" stroke="#444" stroke-width="0.85"/><rect x="-5.65" y="-5.7" width="11.3" height="1.1" fill="#777"/><rect x="-5.65" y="-4.6" width="11.3" height="1.2" fill="#c4c4c4"/></g>
<g transform="translate(224.8,351.25) rotate(90)"><rect x="-6.25" y="-6" width="12.5" height="12" rx="1.2" fill="#fff" stroke="#444" stroke-width="0.85"/><rect x="-5.65" y="-5.7" width="11.3" height="1.1" fill="#777"/><rect x="-5.65" y="-4.6" width="11.3" height="1.2" fill="#c4c4c4"/></g>
<g transform="translate(182,378.75) rotate(-90)"><rect x="-6.25" y="-6" width="12.5" height="12" rx="1.2" fill="#fff" stroke="#444" stroke-width="0.85"/><rect x="-5.65" y="-5.7" width="11.3" height="1.1" fill="#777"/><rect x="-5.65" y="-4.6" width="11.3" height="1.2" fill="#c4c4c4"/></g>
<g transform="translate(224.8,378.75) rotate(90)"><rect x="-6.25" y="-6" width="12.5" height="12" rx="1.2" fill="#fff" stroke="#444" stroke-width="0.85"/><rect x="-5.65" y="-5.7" width="11.3" height="1.1" fill="#777"/><rect x="-5.65" y="-4.6" width="11.3" height="1.2" fill="#c4c4c4"/></g>
<g transform="translate(182,406.25) rotate(-90)"><rect x="-6.25" y="-6" width="12.5" height="12" rx="1.2" fill="#fff" stroke="#444" stroke-width="0.85"/><rect x="-5.65" y="-5.7" width="11.3" height="1.1" fill="#777"/><rect x="-5.65" y="-4.6" width="11.3" height="1.2" fill="#c4c4c4"/></g>
<g transform="translate(224.8,406.25) rotate(90)"><rect x="-6.25" y="-6" width="12.5" height="12" rx="1.2" fill="#fff" stroke="#444" stroke-width="0.85"/><rect x="-5.65" y="-5.7" width="11.3" height="1.1" fill="#777"/><rect x="-5.65" y="-4.6" width="11.3" height="1.2" fill="#c4c4c4"/></g>
<g transform="translate(182,433.75) rotate(-90)"><rect x="-6.25" y="-6" width="12.5" height="12" rx="1.2" fill="#fff" stroke="#444" stroke-width="0.85"/><rect x="-5.65" y="-5.7" width="11.3" height="1.1" fill="#777"/><rect x="-5.65" y="-4.6" width="11.3" height="1.2" fill="#c4c4c4"/></g>
<g transform="translate(224.8,433.75) rotate(90)"><rect x="-6.25" y="-6" width="12.5" height="12" rx="1.2" fill="#fff" stroke="#444" stroke-width="0.85"/><rect x="-5.65" y="-5.7" width="11.3" height="1.1" fill="#777"/><rect x="-5.65" y="-4.6" width="11.3" height="1.2" fill="#c4c4c4"/></g>
<text x="203.7" y="359.5" font-size="15.8" text-anchor="middle">6</text>
<polygon points="310.8,145 310.8,156.2 345.8,156.2" fill="#666" stroke="#444" stroke-width="0.6"/>
<rect x="310.8" y="145" width="36.7" height="11.2" fill="none" stroke="#777" stroke-width="0.6"/>
<path d="M290,162 L303.5,167.5 L290,181.5" fill="none" stroke="#444" stroke-width="0.8"/>
<rect x="288.3" y="160" width="1.3" height="24" fill="#fff"/>
<rect x="292.5" y="183" width="21" height="14" fill="#fff" stroke="#444" stroke-width="0.8"/>
<line x1="293" y1="186" x2="309.5" y2="186" stroke="#555" stroke-width="0.7"/>
<line x1="293" y1="188.7" x2="309.5" y2="188.7" stroke="#555" stroke-width="0.7"/>
<line x1="293" y1="191.4" x2="309.5" y2="191.4" stroke="#555" stroke-width="0.7"/>
<line x1="293" y1="194.1" x2="309.5" y2="194.1" stroke="#555" stroke-width="0.7"/>
<rect x="309.8" y="183" width="3.7" height="14" fill="#999"/>
<rect x="292.5" y="195.2" width="21" height="2.3" fill="#222"/>
<path d="M290,209.5 Q296,210 300.5,213 M290,231 L301.5,219" fill="none" stroke="#444" stroke-width="0.8"/>
<text x="302.3" y="222" font-size="15.8" text-anchor="middle">8</text>
<text x="324" y="176.7" font-size="15.8" text-anchor="middle">14</text>
<text x="384.3" y="177.5" font-size="15.8" text-anchor="middle">13</text>
<path d="M318,234.5 A22,24 0 0 1 340,210.5" fill="none" stroke="#333" stroke-width="0.9"/>
<path d="M369.5,211 A21.5,23.5 0 0 1 391,234.5" fill="none" stroke="#333" stroke-width="0.9"/>
<line x1="317.5" y1="234.6" x2="340" y2="234.6" stroke="#333" stroke-width="0.9"/>
<line x1="369.5" y1="234.6" x2="392" y2="234.6" stroke="#333" stroke-width="0.9"/>
<rect x="352.8" y="144" width="17.7" height="53" fill="#fff" stroke="#777" stroke-width="0.7"/>
<line x1="368" y1="144" x2="368" y2="197" stroke="#999" stroke-width="0.6"/>
<rect x="356.3" y="152.5" width="10.7" height="35" fill="none" stroke="#777" stroke-width="0.8"/>
<rect x="360" y="163.5" width="2" height="1.3" fill="#222"/>
<rect x="360" y="178.5" width="2" height="1.3" fill="#222"/>
<line x1="444.3" y1="144" x2="444.3" y2="208" stroke="#888" stroke-width="0.7"/>
<rect x="418.2" y="208.1" width="31" height="1.7" fill="#111"/>
<path d="M439.5,154 L433,154 Q425,155.7 424.6,159.2 Q425,162.7 433,164.4 L439.5,164.4 Z" fill="#fff" stroke="#888" stroke-width="1"/>
<rect x="438.3" y="153.4" width="3" height="11.6" fill="#fff" stroke="#aaa" stroke-width="0.6"/>
<path d="M439.5,188 L433,188 Q425,189.7 424.6,193.2 Q425,196.7 433,198.4 L439.5,198.4 Z" fill="#fff" stroke="#888" stroke-width="1"/>
<rect x="438.3" y="187.4" width="3" height="11.6" fill="#fff" stroke="#aaa" stroke-width="0.6"/>
<path d="M403,152.3 A14.5,15.8 0 0 1 417.4,168" fill="none" stroke="#333" stroke-width="0.9"/>
<rect x="403" y="168" width="14.4" height="2.8" fill="#aaa" stroke="#555" stroke-width="0.5"/>
<path d="M403,200.8 A14.5,15 0 0 0 417.4,186" fill="none" stroke="#333" stroke-width="0.9"/>
<rect x="403" y="183.3" width="14.4" height="2.7" fill="#aaa" stroke="#555" stroke-width="0.5"/>
<path d="M404,211 L416,206.5 L416,209 L404,213.5 M404,213.5 L418,211.5" fill="none" stroke="#666" stroke-width="0.7"/>
<rect x="451.9" y="194.6" width="28.1" height="20.1" fill="none" stroke="#555" stroke-width="0.7"/>
<rect x="452.2" y="194.8" width="2.1" height="19.7" fill="#f2f2f2"/>
<line x1="454.3" y1="194.7" x2="454.3" y2="214.5" stroke="#555" stroke-width="0.7"/>
<rect x="466.3" y="194.8" width="13.7" height="19.7" fill="#e6e6e6" stroke="#555" stroke-width="0.7"/>
<polygon points="466.8,214.4 479.6,214.4 479.6,195" fill="#555"/>
<rect x="422" y="225.5" width="39.7" height="60.8" fill="none" stroke="#222" stroke-width="1.3"/>
<rect x="422.8" y="226.3" width="38.1" height="59.2" fill="none" stroke="#333" stroke-width="0.8"/><line x1="422.8" y1="226.3" x2="460.9" y2="285.5" stroke="#333" stroke-width="0.72"/><line x1="422.8" y1="285.5" x2="460.9" y2="226.3" stroke="#333" stroke-width="0.72"/>
<rect x="467" y="237.5" width="6.3" height="33.8" fill="none" stroke="#444" stroke-width="0.8"/>
<rect x="422" y="299" width="39.7" height="59.3" fill="none" stroke="#222" stroke-width="1.3"/>
<rect x="422.8" y="299.8" width="38.1" height="57.7" fill="none" stroke="#333" stroke-width="0.8"/><line x1="422.8" y1="299.8" x2="460.9" y2="357.5" stroke="#333" stroke-width="0.72"/><line x1="422.8" y1="357.5" x2="460.9" y2="299.8" stroke="#333" stroke-width="0.72"/>
<rect x="467" y="307.5" width="6.3" height="33.3" fill="none" stroke="#444" stroke-width="0.8"/>
<line x1="410.8" y1="240.6" x2="410.8" y2="268" stroke="#777" stroke-width="1.4"/>
<rect x="414.2" y="310.8" width="4" height="27.5" fill="#fff" stroke="#333" stroke-width="0.6"/>
<polygon points="485,314.7 497.5,314.7 495,360.8 485,363" fill="#d6d6d6" stroke="#222" stroke-width="0.9"/>
<rect x="413.6" y="369.3" width="29.4" height="12" fill="none" stroke="#333" stroke-width="0.8"/><line x1="413.6" y1="369.3" x2="443" y2="381.3" stroke="#333" stroke-width="0.72"/><line x1="413.6" y1="381.3" x2="443" y2="369.3" stroke="#333" stroke-width="0.72"/>
<rect x="444.7" y="369.3" width="39.5" height="12" fill="none" stroke="#333" stroke-width="0.8"/><line x1="444.7" y1="369.3" x2="484.2" y2="381.3" stroke="#333" stroke-width="0.72"/><line x1="444.7" y1="381.3" x2="484.2" y2="369.3" stroke="#333" stroke-width="0.72"/>
<rect x="485.8" y="369.3" width="39.2" height="12" fill="none" stroke="#333" stroke-width="0.8"/><line x1="485.8" y1="369.3" x2="525" y2="381.3" stroke="#333" stroke-width="0.72"/><line x1="485.8" y1="381.3" x2="525" y2="369.3" stroke="#333" stroke-width="0.72"/>
<rect x="522.6" y="368.5" width="4.4" height="22.5" fill="#e8e8e8" stroke="#555" stroke-width="0.5"/>
<path d="M404,394 L418.3,402.5 L401.3,413.5" fill="none" stroke="#444" stroke-width="0.8"/>
<path d="M399,418.3 L425,418.3 M397,424 L404,418.5 L412,424.5" fill="none" stroke="#555" stroke-width="0.7"/>
<text x="444.2" y="401.8" font-size="15.8" text-anchor="middle">10</text>
<text x="345.3" y="338" font-size="15.8" text-anchor="middle">11</text>
<path d="M490.3,421.6 L508.4,421.6 A9.05,11 0 0 1 490.3,421.6 Z" fill="#fff" stroke="#555" stroke-width="0.9"/>
<text x="484.2" y="443.3" font-size="15.8" text-anchor="middle">1</text>
<g transform="translate(477,486.5) rotate(-52)"><path d="M-8,-2 L1,-2 L0,-5.5 L9,0 L0,5.5 L1,2 L-8,2 Z" fill="#000"/></g>
<line x1="271.7" y1="499.7" x2="554" y2="499.7" stroke="#111" stroke-width="1.6" stroke-dasharray="8,3.3,2.2,3.8"/>
<rect x="269.2" y="452.7" width="3.5" height="11.6" fill="#111"/>
<rect x="269.2" y="491.5" width="3.5" height="10.5" fill="#111"/>
<line x1="271.3" y1="463" x2="271.3" y2="492" stroke="#555" stroke-width="0.7"/>
<line x1="244.2" y1="492.2" x2="276.7" y2="492.2" stroke="#444" stroke-width="0.9"/>
<path d="M244.2,492.2 A27,28.5 0 0 1 269.8,463.6" fill="none" stroke="#444" stroke-width="0.9"/>
<path d="M250.8,462.5 Q264,451 281.5,448.5" fill="none" stroke="#111" stroke-width="2.6"/>
<path d="M281.5,448.5 L285,450" fill="none" stroke="#111" stroke-width="1.5"/>
<rect x="211.7" y="600.3" width="256.6" height="78.9" fill="none" stroke="#111" stroke-width="1"/>
<rect x="211.7" y="600.3" width="256.6" height="3.4" fill="#d8d8d8" stroke="#111" stroke-width="0.9"/>
<rect x="211.7" y="637.5" width="256.6" height="5.8" fill="#d8d8d8" stroke="#111" stroke-width="0.9"/>
<rect x="211.7" y="675.3" width="256.6" height="3.9" fill="#d8d8d8" stroke="#111" stroke-width="0.9"/>
<line x1="458.3" y1="603.7" x2="458.3" y2="637.5" stroke="#111" stroke-width="0.9"/>
<line x1="458.3" y1="643.3" x2="458.3" y2="675.3" stroke="#111" stroke-width="0.9"/>
<path d="M220,603.7V637.5M227.5,603.7V637.5M235,603.7V637.5M242.5,603.7V637.5M250,603.7V637.5M257.5,603.7V637.5M265,603.7V637.5M272.5,603.7V637.5M280,603.7V637.5M287.5,603.7V637.5M295,603.7V637.5M302.5,603.7V637.5M310,603.7V637.5M317.5,603.7V637.5M325,603.7V637.5M332.5,603.7V637.5M340,603.7V637.5M220,643.3V675.3M227.5,643.3V675.3M235,643.3V675.3M242.5,643.3V675.3M250,643.3V675.3M257.5,643.3V675.3M265,643.3V675.3M272.5,643.3V675.3M280,643.3V675.3M287.5,643.3V675.3M295,643.3V675.3M302.5,643.3V675.3M310,643.3V675.3M317.5,643.3V675.3M325,643.3V675.3M332.5,643.3V675.3M340,643.3V675.3M347.5,643.3V675.3M355,643.3V675.3" fill="none" stroke="#222" stroke-width="0.8"/>
<line x1="211.7" y1="620.3" x2="331" y2="620.3" stroke="#222" stroke-width="0.8"/>
<line x1="221" y1="659.5" x2="318" y2="659.5" stroke="#222" stroke-width="0.8"/>
<polygon points="316.7,618.2 336.7,620.3 316.7,622.4" fill="#000"/>
<polygon points="242.5,657.3 221.7,659.5 242.5,661.7" fill="#000"/>
<line x1="330.8" y1="583.3" x2="373.3" y2="692.7" stroke="#111" stroke-width="1"/>
<line x1="342" y1="622" x2="350.5" y2="619.2" stroke="#111" stroke-width="1.4"/>
<text x="183" y="646.5" font-size="15.8" text-anchor="middle">12</text>
<!-- s7_dining -->
<defs><linearGradient id="gA" gradientUnits="userSpaceOnUse" x1="548" y1="470" x2="645" y2="430"><stop offset="0" stop-color="#666"/><stop offset="0.55" stop-color="#727272"/><stop offset="1" stop-color="#8c8c8c"/></linearGradient></defs>
<path d="M561.2,491.78 L557.49,487.32 L554.32,482.47 L551.71,477.3 L549.71,471.85 L548.34,466.22 L547.62,460.47 L547.55,454.67 L548.15,448.9 L549.39,443.24 L551.27,437.76 L553.76,432.52 L556.83,427.6 L560.43,423.06 L564.53,418.96 L569.07,415.35 L573.98,412.28 L579.22,409.79 L584.7,407.9 L590.36,406.65 L596.13,406.06 L601.92,406.12 L607.68,406.83 L613.31,408.2 L618.75,410.19 L623.94,412.8 L628.79,415.97 L633.25,419.67 L637.26,423.86 L640.77,428.47 L643.74,433.45 L639.97,447.58 L637.79,443.61 L635.16,439.91 L632.12,436.54 L628.71,433.55 L624.99,430.96 L620.98,428.82 L616.76,427.16 L612.38,426 L607.89,425.35 L603.36,425.22 L598.84,425.61 L594.39,426.52 L590.09,427.94 L585.97,429.84 L582.1,432.21 L578.53,435.01 L575.3,438.19 L572.47,441.73 L570.06,445.58 L568.1,449.67 L566.64,453.96 L565.68,458.4 L565.23,462.91 L565.31,467.45 L565.91,471.94 L567.03,476.34 L568.64,480.58 L570.73,484.6 L573.27,488.36 L576.23,491.8 Z" fill="url(#gA)"/>
<path d="M561.2,491.78 L557.49,487.32 L554.32,482.47 L551.71,477.3 L549.71,471.85 L548.34,466.22 L547.62,460.47 L547.55,454.67 L548.15,448.9 L549.39,443.24 L551.27,437.76 L553.76,432.52 L556.83,427.6 L560.43,423.06 L564.53,418.96 L569.07,415.35 L573.98,412.28 L579.22,409.79 L584.7,407.9 L590.36,406.65 L596.13,406.06 L601.92,406.12 L607.68,406.83 L613.31,408.2 L618.75,410.19 L623.94,412.8 L628.79,415.97 L633.25,419.67 L637.26,423.86 L640.77,428.47 L643.74,433.45" fill="none" stroke="#111" stroke-width="3"/>
<path d="M561.2,491.78 L557.49,487.32 L554.32,482.47 L551.71,477.3 L549.71,471.85 L548.34,466.22 L547.62,460.47 L547.55,454.67 L548.15,448.9 L549.39,443.24 L551.27,437.76 L553.76,432.52 L556.83,427.6 L560.43,423.06 L564.53,418.96 L569.07,415.35 L573.98,412.28 L579.22,409.79 L584.7,407.9 L590.36,406.65 L596.13,406.06 L601.92,406.12 L607.68,406.83 L613.31,408.2 L618.75,410.19 L623.94,412.8 L628.79,415.97 L633.25,419.67 L637.26,423.86 L640.77,428.47 L643.74,433.45" fill="none" stroke="#fff" stroke-width="1"/>
<path d="M639.97,447.58 L637.79,443.61 L635.16,439.91 L632.12,436.54 L628.71,433.55 L624.99,430.96 L620.98,428.82 L616.76,427.16 L612.38,426 L607.89,425.35 L603.36,425.22 L598.84,425.61 L594.39,426.52 L590.09,427.94 L585.97,429.84 L582.1,432.21 L578.53,435.01 L575.3,438.19 L572.47,441.73 L570.06,445.58 L568.1,449.67 L566.64,453.96 L565.68,458.4 L565.23,462.91 L565.31,467.45 L565.91,471.94 L567.03,476.34 L568.64,480.58 L570.73,484.6 L573.27,488.36 L576.23,491.8" fill="none" stroke="#000" stroke-width="2.6"/>
<path d="M643.74,433.45 L639.97,447.58" fill="none" stroke="#000" stroke-width="1.3"/>
<g transform="translate(606.2,468.8) rotate(27.7)"><g transform="translate(0,-20) rotate(0)"><rect x="-6.25" y="-6" width="12.5" height="12" rx="1.2" fill="#fff" stroke="#444" stroke-width="0.85"/><rect x="-5.65" y="-5.7" width="11.3" height="1.1" fill="#777"/><rect x="-5.65" y="-4.6" width="11.3" height="1.2" fill="#c4c4c4"/></g><g transform="translate(20,0) rotate(90)"><rect x="-6.25" y="-6" width="12.5" height="12" rx="1.2" fill="#fff" stroke="#444" stroke-width="0.85"/><rect x="-5.65" y="-5.7" width="11.3" height="1.1" fill="#777"/><rect x="-5.65" y="-4.6" width="11.3" height="1.2" fill="#c4c4c4"/></g><g transform="translate(0,20) rotate(180)"><rect x="-6.25" y="-6" width="12.5" height="12" rx="1.2" fill="#fff" stroke="#444" stroke-width="0.85"/><rect x="-5.65" y="-5.7" width="11.3" height="1.1" fill="#777"/><rect x="-5.65" y="-4.6" width="11.3" height="1.2" fill="#c4c4c4"/></g><g transform="translate(-20,0) rotate(270)"><rect x="-6.25" y="-6" width="12.5" height="12" rx="1.2" fill="#fff" stroke="#444" stroke-width="0.85"/><rect x="-5.65" y="-5.7" width="11.3" height="1.1" fill="#777"/><rect x="-5.65" y="-4.6" width="11.3" height="1.2" fill="#c4c4c4"/></g><rect x="-13.75" y="-13.75" width="27.5" height="27.5" fill="#fff" stroke="#333" stroke-width="0.9"/></g>
<text x="605.8" y="474.5" font-size="15.8" text-anchor="middle">2</text>
<rect x="575" y="493.3" width="7.5" height="29.2" fill="#fff" stroke="#000" stroke-width="1.6"/>
<polygon points="576.3,521 579.2,499 581.5,521" fill="#fff" stroke="#000" stroke-width="1.1"/>
<rect x="560" y="491.5" width="16" height="3" fill="#000"/>
<line x1="564.7" y1="537" x2="564.7" y2="688" stroke="#555" stroke-width="0.8" stroke-dasharray="4,2"/>
<line x1="578.3" y1="571.7" x2="578.3" y2="715" stroke="#444" stroke-width="0.8"/>
<path d="M651.43,524.64 A42.8,42.8 0 1 1 606.45,508.27" fill="none" stroke="#000" stroke-width="2.9"/><path d="M651.43,524.64 A42.8,42.8 0 1 1 606.45,508.27" fill="none" stroke="#fff" stroke-width="0.63"/>
<path d="M586.54,519.54 A42.8,42.8 0 0 1 606.45,508.27" fill="none" stroke="#111" stroke-width="2.5"/>
<g transform="translate(615.8,549.5) rotate(-33)"><g transform="translate(0,-20) rotate(0)"><rect x="-6.25" y="-6" width="12.5" height="12" rx="1.2" fill="#fff" stroke="#444" stroke-width="0.85"/><rect x="-5.65" y="-5.7" width="11.3" height="1.1" fill="#777"/><rect x="-5.65" y="-4.6" width="11.3" height="1.2" fill="#c4c4c4"/></g><g transform="translate(20,0) rotate(90)"><rect x="-6.25" y="-6" width="12.5" height="12" rx="1.2" fill="#fff" stroke="#444" stroke-width="0.85"/><rect x="-5.65" y="-5.7" width="11.3" height="1.1" fill="#777"/><rect x="-5.65" y="-4.6" width="11.3" height="1.2" fill="#c4c4c4"/></g><g transform="translate(0,20) rotate(180)"><rect x="-6.25" y="-6" width="12.5" height="12" rx="1.2" fill="#fff" stroke="#444" stroke-width="0.85"/><rect x="-5.65" y="-5.7" width="11.3" height="1.1" fill="#777"/><rect x="-5.65" y="-4.6" width="11.3" height="1.2" fill="#c4c4c4"/></g><g transform="translate(-20,0) rotate(270)"><rect x="-6.25" y="-6" width="12.5" height="12" rx="1.2" fill="#fff" stroke="#444" stroke-width="0.85"/><rect x="-5.65" y="-5.7" width="11.3" height="1.1" fill="#777"/><rect x="-5.65" y="-4.6" width="11.3" height="1.2" fill="#c4c4c4"/></g><rect x="-13.75" y="-13.75" width="27.5" height="27.5" fill="#fff" stroke="#333" stroke-width="0.9"/></g>
<path d="M660.3,515.9 A26.6,26.6 0 0 1 701.31,503.76" fill="none" stroke="#000" stroke-width="2.5"/>
<path d="M664.12,568.53 A36.2,36.2 0 0 0 720.7,553.37" fill="none" stroke="#000" stroke-width="2.9"/><path d="M664.12,568.53 A36.2,36.2 0 0 0 720.7,553.37" fill="none" stroke="#fff" stroke-width="0.56"/>
<g transform="translate(692.4,538.9) rotate(-8.8)"><g transform="translate(0,-19.8) rotate(0)"><rect x="-6.25" y="-6" width="12.5" height="12" rx="1.2" fill="#fff" stroke="#444" stroke-width="0.85"/><rect x="-5.65" y="-5.7" width="11.3" height="1.1" fill="#777"/><rect x="-5.65" y="-4.6" width="11.3" height="1.2" fill="#c4c4c4"/></g><g transform="translate(0,19.8) rotate(180)"><rect x="-6.25" y="-6" width="12.5" height="12" rx="1.2" fill="#fff" stroke="#444" stroke-width="0.85"/><rect x="-5.65" y="-5.7" width="11.3" height="1.1" fill="#777"/><rect x="-5.65" y="-4.6" width="11.3" height="1.2" fill="#c4c4c4"/></g><rect x="-11.9" y="-11.9" width="23.8" height="23.8" fill="#fff" stroke="#333" stroke-width="0.9"/></g>
<path d="M684.5,459.5 C686.92,456.92 693.92,448.92 699,444 C704.08,439.08 710.17,433.67 715,430 C719.83,426.33 723.83,424.2 728,422 C732.17,419.8 736,418.17 740,416.8 C744,415.43 747.83,414.52 752,413.8 C756.17,413.08 762.83,412.72 765,412.5 L750,416.5  C748,417.42 741.83,419.75 738,422 C734.17,424.25 730.5,427 727,430 C723.5,433 720.17,436.33 717,440 C713.83,443.67 711,447.5 708,452 C705,456.5 700.5,464.5 699,467 Z" fill="#8a8a8a" stroke="#111" stroke-width="0.8"/>
<path d="M684.5,459.5 C686.92,456.92 693.92,448.92 699,444 C704.08,439.08 710.17,433.67 715,430 C719.83,426.33 723.83,424.2 728,422 C732.17,419.8 736,418.17 740,416.8 C744,415.43 747.83,414.52 752,413.8 C756.17,413.08 761.67,412.55 765,412.5 C768.33,412.45 770.83,413.33 772,413.5" fill="none" stroke="#000" stroke-width="2.6"/>
<path d="M771,413.3 C772.25,414.83 776.17,419.22 778.5,422.5 C780.83,425.78 782.67,429.08 785,433 C787.33,436.92 790,441.33 792.5,446 C795,450.67 798.75,458.5 800,461 L797.5,459.5  C796.08,457.25 792.08,450.92 789,446 C785.92,441.08 782.17,434.92 779,430 C775.83,425.08 771.5,418.75 770,416.5 Z" fill="#777" stroke="#111" stroke-width="0.7"/>
<path d="M771,413.3 C772.25,414.83 776.17,419.22 778.5,422.5 C780.83,425.78 782.67,429.08 785,433 C787.33,436.92 790,441.33 792.5,446 C795,450.67 798.75,458.5 800,461" fill="none" stroke="#000" stroke-width="2.8"/>
<path d="M765,412.5 L772,413.6" fill="none" stroke="#000" stroke-width="2.6"/>
<g transform="translate(753.7,454) rotate(-27)"><g transform="translate(0,-20) rotate(0)"><rect x="-6.25" y="-6" width="12.5" height="12" rx="1.2" fill="#fff" stroke="#444" stroke-width="0.85"/><rect x="-5.65" y="-5.7" width="11.3" height="1.1" fill="#777"/><rect x="-5.65" y="-4.6" width="11.3" height="1.2" fill="#c4c4c4"/></g><g transform="translate(20,0) rotate(90)"><rect x="-6.25" y="-6" width="12.5" height="12" rx="1.2" fill="#fff" stroke="#444" stroke-width="0.85"/><rect x="-5.65" y="-5.7" width="11.3" height="1.1" fill="#777"/><rect x="-5.65" y="-4.6" width="11.3" height="1.2" fill="#c4c4c4"/></g><g transform="translate(0,20) rotate(180)"><rect x="-6.25" y="-6" width="12.5" height="12" rx="1.2" fill="#fff" stroke="#444" stroke-width="0.85"/><rect x="-5.65" y="-5.7" width="11.3" height="1.1" fill="#777"/><rect x="-5.65" y="-4.6" width="11.3" height="1.2" fill="#c4c4c4"/></g><g transform="translate(-20,0) rotate(270)"><rect x="-6.25" y="-6" width="12.5" height="12" rx="1.2" fill="#fff" stroke="#444" stroke-width="0.85"/><rect x="-5.65" y="-5.7" width="11.3" height="1.1" fill="#777"/><rect x="-5.65" y="-4.6" width="11.3" height="1.2" fill="#c4c4c4"/></g><rect x="-13.75" y="-13.75" width="27.5" height="27.5" fill="#fff" stroke="#333" stroke-width="0.9"/></g>
<text x="753.5" y="459.5" font-size="15.8" text-anchor="middle">2</text>
<path d="M828.14,425.85 L831.61,424.48 L835.14,423.29 L838.72,422.28 L842.35,421.45 L846.02,420.81 L849.72,420.35 L853.43,420.08 L857.16,420 L860.88,420.11 L864.59,420.4 L868.29,420.89 L871.95,421.56 L875.58,422.41 L879.15,423.45 L882.68,424.66 L886.13,426.05 L889.51,427.62 L892.81,429.35 L896.01,431.25 L899.12,433.31 L902.11,435.52 L904.99,437.89 L907.75,440.39 L910.38,443.03 L912.87,445.8 L915.21,448.69 L917.41,451.7 L919.45,454.82 L921.33,458.03 L923.05,461.34 L918.4,473.25 L917.02,469.86 L915.47,466.56 L913.73,463.35 L911.82,460.24 L909.75,457.24 L907.51,454.35 L905.12,451.6 L902.57,448.98 L899.89,446.5 L897.08,444.18 L894.14,442.01 L891.09,440.01 L887.93,438.17 L884.68,436.52 L881.34,435.04 L877.93,433.76 L874.45,432.66 L870.91,431.75 L867.33,431.04 L863.72,430.53 L860.08,430.21 L856.43,430.1 L852.78,430.19 L849.14,430.48 L845.53,430.96 L841.94,431.65 L838.4,432.53 L834.91,433.61 L831.49,434.87 L828.14,436.32 Z" fill="#585858" stroke="#111" stroke-width="0.8"/>
<path d="M828.14,425.85 L831.61,424.48 L835.14,423.29 L838.72,422.28 L842.35,421.45 L846.02,420.81 L849.72,420.35 L853.43,420.08 L857.16,420 L860.88,420.11 L864.59,420.4 L868.29,420.89 L871.95,421.56 L875.58,422.41 L879.15,423.45 L882.68,424.66 L886.13,426.05 L889.51,427.62 L892.81,429.35 L896.01,431.25 L899.12,433.31 L902.11,435.52 L904.99,437.89 L907.75,440.39 L910.38,443.03 L912.87,445.8 L915.21,448.69 L917.41,451.7 L919.45,454.82 L921.33,458.03 L923.05,461.34" fill="none" stroke="#000" stroke-width="2.4"/>
<path d="M918.4,473.25 L917.02,469.86 L915.47,466.56 L913.73,463.35 L911.82,460.24 L909.75,457.24 L907.51,454.35 L905.12,451.6 L902.57,448.98 L899.89,446.5 L897.08,444.18 L894.14,442.01 L891.09,440.01 L887.93,438.17 L884.68,436.52 L881.34,435.04 L877.93,433.76 L874.45,432.66 L870.91,431.75 L867.33,431.04 L863.72,430.53 L860.08,430.21 L856.43,430.1 L852.78,430.19 L849.14,430.48 L845.53,430.96 L841.94,431.65 L838.4,432.53 L834.91,433.61 L831.49,434.87 L828.14,436.32" fill="none" stroke="#bbb" stroke-width="0.7"/>
<g transform="translate(868.6,469.3) rotate(-26.5)"><g transform="translate(0,-20) rotate(0)"><rect x="-6.25" y="-6" width="12.5" height="12" rx="1.2" fill="#fff" stroke="#444" stroke-width="0.85"/><rect x="-5.65" y="-5.7" width="11.3" height="1.1" fill="#777"/><rect x="-5.65" y="-4.6" width="11.3" height="1.2" fill="#c4c4c4"/></g><g transform="translate(20,0) rotate(90)"><rect x="-6.25" y="-6" width="12.5" height="12" rx="1.2" fill="#fff" stroke="#444" stroke-width="0.85"/><rect x="-5.65" y="-5.7" width="11.3" height="1.1" fill="#777"/><rect x="-5.65" y="-4.6" width="11.3" height="1.2" fill="#c4c4c4"/></g><g transform="translate(0,20) rotate(180)"><rect x="-6.25" y="-6" width="12.5" height="12" rx="1.2" fill="#fff" stroke="#444" stroke-width="0.85"/><rect x="-5.65" y="-5.7" width="11.3" height="1.1" fill="#777"/><rect x="-5.65" y="-4.6" width="11.3" height="1.2" fill="#c4c4c4"/></g><g transform="translate(-20,0) rotate(270)"><rect x="-6.25" y="-6" width="12.5" height="12" rx="1.2" fill="#fff" stroke="#444" stroke-width="0.85"/><rect x="-5.65" y="-5.7" width="11.3" height="1.1" fill="#777"/><rect x="-5.65" y="-4.6" width="11.3" height="1.2" fill="#c4c4c4"/></g><rect x="-13.75" y="-13.75" width="27.5" height="27.5" fill="#fff" stroke="#333" stroke-width="0.9"/></g>
<path d="M825.68,470.99 L824.63,472.89 L823.71,474.87 L822.94,476.91 L822.31,478.99 L821.83,481.12 L821.5,483.27 L821.33,485.44 L821.31,487.62 L821.45,489.8 L821.74,491.96 L822.18,494.09 L822.77,496.18 L823.51,498.23 L824.39,500.23 L825.41,502.15 L826.57,504 L827.85,505.76 L829.26,507.42 L830.78,508.98 L832.4,510.43 L834.13,511.76 L835.94,512.97 L837.84,514.04 L839.81,514.98 L841.84,515.77 L843.92,516.42 L846.04,516.92 L848.19,517.26 L850.36,517.46 L852.54,517.5 L856.31,500.26 L854.77,500.3 L853.24,500.25 L851.7,500.11 L850.18,499.88 L848.67,499.57 L847.19,499.17 L845.72,498.69 L844.29,498.13 L842.89,497.48 L841.54,496.76 L840.22,495.96 L838.95,495.09 L837.74,494.14 L836.58,493.13 L835.48,492.06 L834.44,490.92 L833.47,489.72 L832.57,488.48 L831.74,487.18 L830.99,485.84 L830.31,484.45 L829.72,483.03 L829.2,481.58 L828.77,480.11 L828.43,478.61 L828.17,477.09 L827.99,475.56 L827.91,474.02 L827.91,472.48 L828,470.95 Z" fill="#585858" stroke="#111" stroke-width="0.9"/>
<path d="M825.68,470.99 L824.63,472.89 L823.71,474.87 L822.94,476.91 L822.31,478.99 L821.83,481.12 L821.5,483.27 L821.33,485.44 L821.31,487.62 L821.45,489.8 L821.74,491.96 L822.18,494.09 L822.77,496.18 L823.51,498.23 L824.39,500.23 L825.41,502.15 L826.57,504 L827.85,505.76 L829.26,507.42 L830.78,508.98 L832.4,510.43 L834.13,511.76 L835.94,512.97 L837.84,514.04 L839.81,514.98 L841.84,515.77 L843.92,516.42 L846.04,516.92 L848.19,517.26 L850.36,517.46 L852.54,517.5" fill="none" stroke="#000" stroke-width="2.2"/>
<g transform="translate(820.8,552.7) rotate(45)"><g transform="translate(0,-20.4) rotate(0)"><rect x="-6.25" y="-6" width="12.5" height="12" rx="1.2" fill="#fff" stroke="#444" stroke-width="0.85"/><rect x="-5.65" y="-5.7" width="11.3" height="1.1" fill="#777"/><rect x="-5.65" y="-4.6" width="11.3" height="1.2" fill="#c4c4c4"/></g><g transform="translate(20.4,0) rotate(90)"><rect x="-6.25" y="-6" width="12.5" height="12" rx="1.2" fill="#fff" stroke="#444" stroke-width="0.85"/><rect x="-5.65" y="-5.7" width="11.3" height="1.1" fill="#777"/><rect x="-5.65" y="-4.6" width="11.3" height="1.2" fill="#c4c4c4"/></g><g transform="translate(0,20.4) rotate(180)"><rect x="-6.25" y="-6" width="12.5" height="12" rx="1.2" fill="#fff" stroke="#444" stroke-width="0.85"/><rect x="-5.65" y="-5.7" width="11.3" height="1.1" fill="#777"/><rect x="-5.65" y="-4.6" width="11.3" height="1.2" fill="#c4c4c4"/></g><g transform="translate(-20.4,0) rotate(270)"><rect x="-6.25" y="-6" width="12.5" height="12" rx="1.2" fill="#fff" stroke="#444" stroke-width="0.85"/><rect x="-5.65" y="-5.7" width="11.3" height="1.1" fill="#777"/><rect x="-5.65" y="-4.6" width="11.3" height="1.2" fill="#c4c4c4"/></g><rect x="-13.8" y="-13.8" width="27.6" height="27.6" fill="#fff" stroke="#333" stroke-width="0.9"/></g>
<text x="820.8" y="558" font-size="15.8" text-anchor="middle">2</text>
<path d="M774.49,582.11 L777.19,584.67 L780.02,587.09 L782.96,589.37 L786.02,591.49 L789.18,593.45 L792.44,595.24 L795.79,596.87 L799.22,598.33 L802.71,599.6 L806.27,600.7 L809.88,601.61 L813.53,602.34 L817.21,602.88 L820.91,603.23 L824.63,603.39 L828.35,603.36 L832.07,603.14 L835.77,602.73 L839.44,602.13 L843.08,601.34 L846.67,600.37 L850.21,599.22 L853.68,597.88 L857.08,596.37 L860.4,594.69 L863.63,592.84 L866.76,590.83 L869.79,588.66 L872.7,586.34 L875.48,583.87 L873.26,575.37 L870.47,577.67 L867.58,579.84 L864.58,581.85 L861.48,583.72 L858.3,585.43 L855.03,586.98 L851.7,588.37 L848.29,589.59 L844.84,590.64 L841.33,591.52 L837.78,592.23 L834.21,592.76 L830.61,593.11 L827,593.28 L823.39,593.27 L819.78,593.09 L816.18,592.73 L812.61,592.19 L809.06,591.47 L805.56,590.58 L802.11,589.52 L798.71,588.29 L795.37,586.89 L792.11,585.33 L788.93,583.61 L785.84,581.74 L782.85,579.71 L779.96,577.54 L777.18,575.23 L774.52,572.78 Z" fill="#5a5a5a" stroke="#111" stroke-width="0.9"/>
<path d="M774.49,582.11 L777.19,584.67 L780.02,587.09 L782.96,589.37 L786.02,591.49 L789.18,593.45 L792.44,595.24 L795.79,596.87 L799.22,598.33 L802.71,599.6 L806.27,600.7 L809.88,601.61 L813.53,602.34 L817.21,602.88 L820.91,603.23 L824.63,603.39 L828.35,603.36 L832.07,603.14 L835.77,602.73 L839.44,602.13 L843.08,601.34 L846.67,600.37 L850.21,599.22 L853.68,597.88 L857.08,596.37 L860.4,594.69 L863.63,592.84 L866.76,590.83 L869.79,588.66 L872.7,586.34 L875.48,583.87" fill="none" stroke="#000" stroke-width="2.6"/>
<g transform="translate(898.3,548.4) rotate(45)"><g transform="translate(0,-20.6) rotate(0)"><rect x="-6.25" y="-6" width="12.5" height="12" rx="1.2" fill="#fff" stroke="#444" stroke-width="0.85"/><rect x="-5.65" y="-5.7" width="11.3" height="1.1" fill="#777"/><rect x="-5.65" y="-4.6" width="11.3" height="1.2" fill="#c4c4c4"/></g><g transform="translate(20.6,0) rotate(90)"><rect x="-6.25" y="-6" width="12.5" height="12" rx="1.2" fill="#fff" stroke="#444" stroke-width="0.85"/><rect x="-5.65" y="-5.7" width="11.3" height="1.1" fill="#777"/><rect x="-5.65" y="-4.6" width="11.3" height="1.2" fill="#c4c4c4"/></g><g transform="translate(0,20.6) rotate(180)"><rect x="-6.25" y="-6" width="12.5" height="12" rx="1.2" fill="#fff" stroke="#444" stroke-width="0.85"/><rect x="-5.65" y="-5.7" width="11.3" height="1.1" fill="#777"/><rect x="-5.65" y="-4.6" width="11.3" height="1.2" fill="#c4c4c4"/></g><g transform="translate(-20.6,0) rotate(270)"><rect x="-6.25" y="-6" width="12.5" height="12" rx="1.2" fill="#fff" stroke="#444" stroke-width="0.85"/><rect x="-5.65" y="-5.7" width="11.3" height="1.1" fill="#777"/><rect x="-5.65" y="-4.6" width="11.3" height="1.2" fill="#c4c4c4"/></g><rect x="-13.6" y="-13.6" width="27.2" height="27.2" fill="#fff" stroke="#333" stroke-width="0.9"/></g>
<path d="M897.8,507.4 A42.2,42.2 0 0 1 929.16,577.84" fill="none" stroke="#000" stroke-width="3"/><path d="M897.8,507.4 A42.2,42.2 0 0 1 929.16,577.84" fill="none" stroke="#fff" stroke-width="0.49"/>
<polygon points="976.7,537.5 993.3,536 976.7,540.2" fill="#fff"/>
<rect x="994.5" y="499.2" width="15.3" height="11.4" fill="none" stroke="#333" stroke-width="0.8"/><line x1="994.5" y1="499.2" x2="1009.8" y2="510.6" stroke="#333" stroke-width="0.72"/><line x1="994.5" y1="510.6" x2="1009.8" y2="499.2" stroke="#333" stroke-width="0.72"/>
<line x1="1013.7" y1="391.5" x2="1013.7" y2="511.5" stroke="#111" stroke-width="1.6" stroke-dasharray="8,3.3,2.2,3.8"/>
<polygon points="972.9,450.8 1023.8,471.8 1018.1,485.2 967.2,464.2" fill="#fff" stroke="#222" stroke-width="1"/>
<path d="M1000.27,472.37 A48.1,48.1 0 0 1 994.51,541.73" fill="none" stroke="#000" stroke-width="2.6"/><path d="M1000.27,472.37 A48.1,48.1 0 0 1 994.51,541.73" fill="none" stroke="#fff" stroke-width="0.56"/>
<path d="M995.8,430.8 L1005,424.2 L1003.3,428.2 L1014,428.2 L1014,433.4 L1003.3,433.4 L1005,437.4 Z" fill="#000"/>
<text x="991.7" y="452.2" font-size="15.8" text-anchor="middle">1</text>
<rect x="604.2" y="609.7" width="25.5" height="75" fill="#fff" stroke="#222" stroke-width="1"/>
<line x1="620.5" y1="609.7" x2="620.5" y2="684.7" stroke="#222" stroke-width="1"/>
<rect x="605.8" y="662.5" width="10" height="13.3" fill="none" stroke="#555" stroke-width="0.8"/>
<path d="M610.8,669.2 H617 M617.5,669.2 l-2.5,-1.5 v3 z" fill="#222" stroke="#222" stroke-width="0.8"/>
<circle cx="637.5" cy="619.7" r="5" fill="#fff" stroke="#444" stroke-width="0.8"/>
<circle cx="637.5" cy="635" r="5" fill="#fff" stroke="#444" stroke-width="0.8"/>
<circle cx="637.5" cy="650.5" r="5" fill="#fff" stroke="#444" stroke-width="0.8"/>
<text x="614.2" y="648.3" font-size="15.8" text-anchor="middle">3</text>
<rect x="585.5" y="703.3" width="68.2" height="11.7" fill="#fff" stroke="#222" stroke-width="1"/>
<path d="M588.2,704.6V713.8M590.92,704.6V713.8M593.64,704.6V713.8M596.36,704.6V713.8M599.08,704.6V713.8M601.8,704.6V713.8M604.52,704.6V713.8M607.24,704.6V713.8M609.96,704.6V713.8M612.68,704.6V713.8M615.4,704.6V713.8M618.12,704.6V713.8M620.84,704.6V713.8M623.56,704.6V713.8M626.28,704.6V713.8M629,704.6V713.8M631.72,704.6V713.8M634.44,704.6V713.8M637.16,704.6V713.8M639.88,704.6V713.8M642.6,704.6V713.8M645.32,704.6V713.8M648.04,704.6V713.8M650.76,704.6V713.8" fill="none" stroke="#222" stroke-width="1"/>
<line x1="575" y1="715.3" x2="1011" y2="715.3" stroke="#444" stroke-width="0.9"/>
<path d="M699.72,612.45 A202.2,202.2 0 0 0 661.75,715.08" fill="none" stroke="#000" stroke-width="2.8"/><path d="M699.72,612.45 A202.2,202.2 0 0 0 661.75,715.08" fill="none" stroke="#fff" stroke-width="0.63"/>
<path d="M703.1,607.41 A58.5,58.5 0 0 0 752.18,613.44" fill="none" stroke="#111" stroke-width="2.6" stroke-linecap="round"/><path d="M703.1,607.41 A58.5,58.5 0 0 0 752.18,613.44" fill="none" stroke="#fff" stroke-width="1.1" stroke-dasharray="2.2,1.6"/>
<path d="M774.64,628.53 A64.2,64.2 0 0 0 837,618.09" fill="none" stroke="#111" stroke-width="2.6" stroke-linecap="round"/><path d="M774.64,628.53 A64.2,64.2 0 0 0 837,618.09" fill="none" stroke="#fff" stroke-width="1.1" stroke-dasharray="2.2,1.6"/>
<path d="M864.51,626.45 A78.4,78.4 0 0 0 931.99,628.22" fill="none" stroke="#111" stroke-width="2.6" stroke-linecap="round"/><path d="M864.51,626.45 A78.4,78.4 0 0 0 931.99,628.22" fill="none" stroke="#fff" stroke-width="1.1" stroke-dasharray="2.2,1.6"/>
<path d="M775.82,633.26 A290.1,290.1 0 0 1 783.35,687.85" fill="none" stroke="#000" stroke-width="2.8"/><path d="M775.82,633.26 A290.1,290.1 0 0 1 783.35,687.85" fill="none" stroke="#fff" stroke-width="0.63"/>
<path d="M872.37,635.58 A253.6,253.6 0 0 1 879.12,715.07" fill="none" stroke="#000" stroke-width="2.8"/><path d="M872.37,635.58 A253.6,253.6 0 0 1 879.12,715.07" fill="none" stroke="#fff" stroke-width="0.63"/>
<rect x="766.3" y="652" width="10.4" height="24.7" fill="#fff" stroke="#444" stroke-width="0.8"/><line x1="766.3" y1="652" x2="776.7" y2="676.7" stroke="#444" stroke-width="0.72"/><line x1="766.3" y1="676.7" x2="776.7" y2="652" stroke="#444" stroke-width="0.72"/>
<rect x="783" y="635.3" width="10.8" height="24.7" fill="#fff" stroke="#444" stroke-width="0.8"/><line x1="783" y1="635.3" x2="793.8" y2="660" stroke="#444" stroke-width="0.72"/><line x1="783" y1="660" x2="793.8" y2="635.3" stroke="#444" stroke-width="0.72"/>
<rect x="880.3" y="636.7" width="10" height="24.6" fill="#fff" stroke="#444" stroke-width="0.8"/><line x1="880.3" y1="636.7" x2="890.3" y2="661.3" stroke="#444" stroke-width="0.72"/><line x1="880.3" y1="661.3" x2="890.3" y2="636.7" stroke="#444" stroke-width="0.72"/>
<path d="M755.76,714.1 A42,42 0 0 1 781.97,677.36" fill="none" stroke="#000" stroke-width="2.6"/><path d="M755.76,714.1 A42,42 0 0 1 781.97,677.36" fill="none" stroke="#fff" stroke-width="0.56"/>
<g transform="translate(719,672.9) rotate(20.8)"><g transform="translate(0,-33.5) rotate(0)"><rect x="-6.25" y="-6" width="12.5" height="12" rx="1.2" fill="#fff" stroke="#444" stroke-width="0.85"/><rect x="-5.65" y="-5.7" width="11.3" height="1.1" fill="#777"/><rect x="-5.65" y="-4.6" width="11.3" height="1.2" fill="#c4c4c4"/></g><g transform="translate(0,33.5) rotate(180)"><rect x="-6.25" y="-6" width="12.5" height="12" rx="1.2" fill="#fff" stroke="#444" stroke-width="0.85"/><rect x="-5.65" y="-5.7" width="11.3" height="1.1" fill="#777"/><rect x="-5.65" y="-4.6" width="11.3" height="1.2" fill="#c4c4c4"/></g><g transform="translate(-20.5,-13.5) rotate(270)"><rect x="-6.25" y="-6" width="12.5" height="12" rx="1.2" fill="#fff" stroke="#444" stroke-width="0.85"/><rect x="-5.65" y="-5.7" width="11.3" height="1.1" fill="#777"/><rect x="-5.65" y="-4.6" width="11.3" height="1.2" fill="#c4c4c4"/></g><g transform="translate(-20.5,13.5) rotate(270)"><rect x="-6.25" y="-6" width="12.5" height="12" rx="1.2" fill="#fff" stroke="#444" stroke-width="0.85"/><rect x="-5.65" y="-5.7" width="11.3" height="1.1" fill="#777"/><rect x="-5.65" y="-4.6" width="11.3" height="1.2" fill="#c4c4c4"/></g><g transform="translate(20.5,-13.5) rotate(90)"><rect x="-6.25" y="-6" width="12.5" height="12" rx="1.2" fill="#fff" stroke="#444" stroke-width="0.85"/><rect x="-5.65" y="-5.7" width="11.3" height="1.1" fill="#777"/><rect x="-5.65" y="-4.6" width="11.3" height="1.2" fill="#c4c4c4"/></g><g transform="translate(20.5,13.5) rotate(90)"><rect x="-6.25" y="-6" width="12.5" height="12" rx="1.2" fill="#fff" stroke="#444" stroke-width="0.85"/><rect x="-5.65" y="-5.7" width="11.3" height="1.1" fill="#777"/><rect x="-5.65" y="-4.6" width="11.3" height="1.2" fill="#c4c4c4"/></g><rect x="-14" y="-27" width="28" height="54" fill="#fff" stroke="#333" stroke-width="0.9"/><line x1="-14" y1="0" x2="14" y2="0" stroke="#333" stroke-width="0.9"/></g>
<text x="724.2" y="668" font-size="15.8" text-anchor="middle">4</text>
<g transform="translate(816.8,670) rotate(-90)"><rect x="-6.25" y="-6" width="12.5" height="12" rx="1.2" fill="#fff" stroke="#444" stroke-width="0.85"/><rect x="-5.65" y="-5.7" width="11.3" height="1.1" fill="#777"/><rect x="-5.65" y="-4.6" width="11.3" height="1.2" fill="#c4c4c4"/></g>
<g transform="translate(816.8,694.5) rotate(-90)"><rect x="-6.25" y="-6" width="12.5" height="12" rx="1.2" fill="#fff" stroke="#444" stroke-width="0.85"/><rect x="-5.65" y="-5.7" width="11.3" height="1.1" fill="#777"/><rect x="-5.65" y="-4.6" width="11.3" height="1.2" fill="#c4c4c4"/></g>
<g transform="translate(852.9,672.3) rotate(90)"><rect x="-6.25" y="-6" width="12.5" height="12" rx="1.2" fill="#fff" stroke="#444" stroke-width="0.85"/><rect x="-5.65" y="-5.7" width="11.3" height="1.1" fill="#777"/><rect x="-5.65" y="-4.6" width="11.3" height="1.2" fill="#c4c4c4"/></g>
<g transform="translate(852.9,694.5) rotate(90)"><rect x="-6.25" y="-6" width="12.5" height="12" rx="1.2" fill="#fff" stroke="#444" stroke-width="0.85"/><rect x="-5.65" y="-5.7" width="11.3" height="1.1" fill="#777"/><rect x="-5.65" y="-4.6" width="11.3" height="1.2" fill="#c4c4c4"/></g>
<rect x="823" y="658.3" width="23.7" height="48" fill="#fff" stroke="#333" stroke-width="0.9"/>
<line x1="823" y1="682.2" x2="846.7" y2="682.2" stroke="#333" stroke-width="0.9"/>
<text x="833.8" y="677.2" font-size="15.8" text-anchor="middle">4</text>
<g transform="translate(911.3,668.8) rotate(-90)"><rect x="-6.25" y="-6" width="12.5" height="12" rx="1.2" fill="#fff" stroke="#444" stroke-width="0.85"/><rect x="-5.65" y="-5.7" width="11.3" height="1.1" fill="#777"/><rect x="-5.65" y="-4.6" width="11.3" height="1.2" fill="#c4c4c4"/></g>
<g transform="translate(911.3,693.6) rotate(-90)"><rect x="-6.25" y="-6" width="12.5" height="12" rx="1.2" fill="#fff" stroke="#444" stroke-width="0.85"/><rect x="-5.65" y="-5.7" width="11.3" height="1.1" fill="#777"/><rect x="-5.65" y="-4.6" width="11.3" height="1.2" fill="#c4c4c4"/></g>
<g transform="translate(947.9,670.5) rotate(90)"><rect x="-6.25" y="-6" width="12.5" height="12" rx="1.2" fill="#fff" stroke="#444" stroke-width="0.85"/><rect x="-5.65" y="-5.7" width="11.3" height="1.1" fill="#777"/><rect x="-5.65" y="-4.6" width="11.3" height="1.2" fill="#c4c4c4"/></g>
<g transform="translate(947.9,693.6) rotate(90)"><rect x="-6.25" y="-6" width="12.5" height="12" rx="1.2" fill="#fff" stroke="#444" stroke-width="0.85"/><rect x="-5.65" y="-5.7" width="11.3" height="1.1" fill="#777"/><rect x="-5.65" y="-4.6" width="11.3" height="1.2" fill="#c4c4c4"/></g>
<rect x="917.5" y="657" width="24.2" height="47.7" fill="#fff" stroke="#333" stroke-width="0.9"/>
<line x1="917.5" y1="680.8" x2="941.7" y2="680.8" stroke="#333" stroke-width="0.9"/>
<text x="929.7" y="675.8" font-size="15.8" text-anchor="middle">4</text>
<path d="M974.17,566.87 A42.4,42.4 0 0 1 956.92,605.6" fill="none" stroke="#000" stroke-width="3"/><path d="M974.17,566.87 A42.4,42.4 0 0 1 956.92,605.6" fill="none" stroke="#fff" stroke-width="0.35"/>
<path d="M956.74,605.75 A162.2,162.2 0 0 1 975.03,688.26" fill="none" stroke="#000" stroke-width="3"/><path d="M956.74,605.75 A162.2,162.2 0 0 1 975.03,688.26" fill="none" stroke="#fff" stroke-width="0.35"/>
<path d="M987.2,567.5 V588.3 A21,21 0 0 0 1008.3,567.5" fill="none" stroke="#444" stroke-width="0.8"/>
<text x="995.3" y="628" font-size="15.8" text-anchor="middle">5</text>
<!-- s8_legend -->
<g class="lg" fill="#111" stroke="#111"><text x="271.2" y="790.3" font-size="14">1</text>
<text class="cj" x="301.6" y="791.3">接待区</text>
<text x="412.9" y="790.3" font-size="13.4" textLength="133" lengthAdjust="spacing">Reception area</text>
<text x="271.2" y="809.68" font-size="14">2</text>
<text class="cj" x="301.6" y="810.68">用餐区</text>
<text x="412.9" y="809.68" font-size="13.4" textLength="102.4" lengthAdjust="spacing">Dining area</text>
<text x="271.2" y="829.06" font-size="14">3</text>
<text class="cj" x="301.6" y="830.06">酒水吧</text>
<text x="412.5" y="829.06" font-size="13.4" textLength="78.7" lengthAdjust="spacing">Wine bar</text>
<text x="271.2" y="848.44" font-size="14">4</text>
<text class="cj" x="301.6" y="849.44">私密用餐区</text>
<text x="410.9" y="848.44" font-size="13.4" textLength="171.6" lengthAdjust="spacing">Private dining area</text>
<text x="271.2" y="867.82" font-size="14">5</text>
<text class="cj" x="301.6" y="868.82">员工休憩区</text>
<text x="410.6" y="867.82" font-size="13.4" textLength="86.8" lengthAdjust="spacing">Staff area</text>
<text x="271.2" y="887.2" font-size="14">6</text>
<text class="cj" x="301.6" y="888.2">多功能厅</text>
<text x="408.8" y="887.2" font-size="13.4" textLength="178.4" lengthAdjust="spacing">Multifunctional hall</text>
<text x="271.2" y="906.58" font-size="14">7</text>
<text class="cj" x="301.6" y="907.58">明厨操作区</text>
<text x="410.6" y="906.58" font-size="13.4" textLength="133.5" lengthAdjust="spacing">Operation area</text>
<text x="849.4" y="789" font-size="14">8</text>
<text class="cj" x="880.2" y="790">音控室</text>
<text x="998.1" y="789" font-size="13.4" textLength="175.2" lengthAdjust="spacing">Audio control room</text>
<text x="849.4" y="808.43" font-size="14">9</text>
<text class="cj" x="880.2" y="809.43">后厨</text>
<text x="996.3" y="808.43" font-size="13.4" textLength="110.4" lengthAdjust="spacing">Kitchen area</text>
<text x="849.4" y="827.86" font-size="14">10</text>
<text class="cj" x="879.3" y="828.86">储藏室</text>
<text x="996.7" y="827.86" font-size="13.4" textLength="91.6" lengthAdjust="spacing">Storeroom</text>
<text x="849.4" y="847.29" font-size="14">11</text>
<text class="cj" x="879.3" y="848.29">电梯厅</text>
<text x="997.4" y="847.29" font-size="13.4" textLength="112.6" lengthAdjust="spacing">Elevator hall</text>
<text x="849.4" y="866.72" font-size="14">12</text>
<text class="cj" x="879.3" y="867.72">手扶梯</text>
<text x="997.4" y="866.72" font-size="13.4" textLength="79.9" lengthAdjust="spacing">Escalator</text>
<text x="849.4" y="886.15" font-size="14">13</text>
<text class="cj" x="879.3" y="887.15">卫生间</text>
<text x="997.1" y="886.15" font-size="13.4" textLength="50.2" lengthAdjust="spacing">Toilet</text>
<text x="849.4" y="905.58" font-size="14">14</text>
<text class="cj" x="879.3" y="906.58">后厨操作区</text>
<text x="995.4" y="905.58" font-size="13.4" textLength="110.6" lengthAdjust="spacing">Kitchen area</text></g>
</svg>
</body></html>
